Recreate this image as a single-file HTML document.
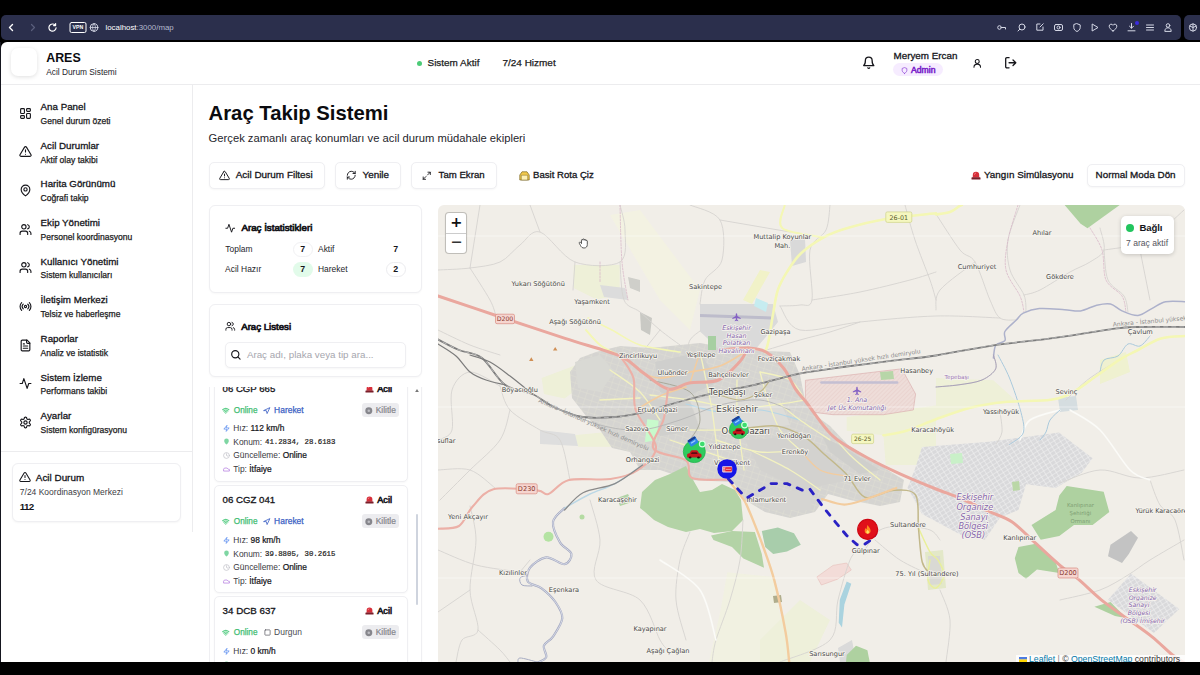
<!DOCTYPE html>
<html lang="tr">
<head>
<meta charset="utf-8">
<title>ARES - Araç Takip Sistemi</title>
<style>
*{box-sizing:border-box;margin:0;padding:0}
html,body{width:1200px;height:675px;overflow:hidden;background:#000}
body{font-family:"Liberation Sans",sans-serif;color:#0b0b0f;position:relative}
.abs{position:absolute}
svg{display:block;overflow:visible}
.ic{position:absolute;fill:none;stroke-linecap:round;stroke-linejoin:round}
.t{position:absolute;white-space:nowrap;line-height:1}
.card{position:absolute;background:#fff;border:1px solid #efeff2;border-radius:6px;box-shadow:0 1px 2px rgba(0,0,0,.03)}
.btn{position:absolute;border:1px solid #efeff2;border-radius:5px;background:#fff;box-shadow:0 1px 2px rgba(0,0,0,.035)}
.t b{color:#15151a;font-weight:400;-webkit-text-stroke:.22px #15151a}
</style>
</head>
<body>
<div class="abs" style="left:1px;top:42px;width:1199px;height:621px;background:#fff;border-radius:6px 0 0 0"></div>
<!-- browser chrome -->
<div class="abs" style="left:0;top:0;width:1200px;height:14px;background:#000"></div>
<div class="abs" style="left:0;top:14px;width:1200px;height:28px;background:#0c0e1c;z-index:-1"></div>
<div class="abs" style="left:1px;top:15px;width:1180px;height:25px;background:#2b2f4c;border-radius:5px"></div>
<div class="abs" style="left:1184px;top:15px;width:22px;height:25px;background:#2b2f4c;border-radius:5px"></div>

<svg class="abs" style="left:0;top:14px" width="1200" height="28" viewBox="0 14 1200 28" fill="none" stroke="#d5d8e6" stroke-width="1.2" stroke-linecap="round" stroke-linejoin="round">
  <path d="M12.5 24.5l-3 3 3 3" stroke="#fff" stroke-width="1.4"/>
  <path d="M31.5 24.5l3 3-3 3" stroke="#5a5f7c"/>
  <path d="M55.2 25.2a3.6 3.6 0 1 0 .9 2.6M55.6 23.6v2h-2" stroke="#fff"/>
  <rect x="70" y="22.5" width="16" height="10" rx="1.5" stroke="#fff" stroke-width="1"/>
  <circle cx="94" cy="27.5" r="3.8" stroke="#d5d8e6" stroke-width="1"/>
  <path d="M90.2 27.5h7.6M94 23.7c-2 2.2-2 5.4 0 7.600M94 23.700c2 2.200 2 5.400 0 7.600" stroke-width=".8"/>
  <!-- right icons -->
  <g stroke-width="1">
  <circle cx="999.500" cy="27.500" r="1.800"/><path d="M1001.300 27.500h4.200v1.500"/>
  <circle cx="1022" cy="27" r="3"/><path d="M1019.800 29.200l-1.800 1.800"/>
  <path d="M1043 27v3.200h-6.200v-6.200h3.200M1040 27l3.200-3.200"/>
  <rect x="1054.500" y="24.500" width="8" height="6" rx="1.500"/><circle cx="1058.500" cy="27.500" r="1.500"/>
  <path d="M1077 23.700l3.200 1.200v2.600c0 2-1.400 3.200-3.200 4-1.800-.8-3.200-2-3.200-4v-2.600z"/>
  <path d="M1092.500 24.200l5.500 3.300-5.500 3.300z"/>
  <path d="M1113 31c-2.400-1.600-3.800-3-3.800-4.800a2 2 0 0 1 3.800-.9 2 2 0 0 1 3.800.9c0 1.800-1.400 3.200-3.800 4.800z"/>
  <path d="M1131.500 23.500v4.500M1129.500 26.200l2 2 2-2M1128 30.800h7"/>
  <path d="M1146.500 25h7M1146.500 27.500h7M1146.500 30h7"/>
  <circle cx="1168" cy="25.500" r="1.800"/><path d="M1164.800 31c0-2.200 1.400-3.200 3.200-3.200s3.200 1 3.200 3.200z"/>
  <circle cx="1193" cy="27.500" r="3.600"/><path d="M1193 23.900v7.200M1189.800 26l3.200 1.500 3.200-1.500"/>
  </g>
  <circle cx="1137" cy="23" r="2" fill="#3a2be0" stroke="none"/>
</svg>
<div class="t" style="left:72.500px;top:25px;font-size:5.200px;font-weight:700;color:#fff;letter-spacing:.1px">VPN</div>

<div class="t" style="left:105.50px;top:23.93px;font-size:7.86px;color:#fff;">localhost<span style="color:#b4b8cc">:3000/map</span></div>
<div class="abs" style="left:1px;top:84px;width:1199px;height:1px;background:#ececee"></div>
<div class="abs" style="left:10.5px;top:47.5px;width:26.5px;height:28.5px;border-radius:7px;background:#fff;box-shadow:0 1px 4px rgba(0,0,0,.13)"></div>
<div class="t" style="left:46.20px;top:52.22px;font-size:12.42px;font-weight:700;color:#0b0b0f;">ARES</div>
<div class="t" style="left:46.20px;top:67.68px;font-size:8.35px;color:#26262c;">Acil Durum Sistemi</div>
<div class="abs" style="left:416.7px;top:60.7px;width:5px;height:5px;border-radius:50%;background:#4ccb77"></div>
<div class="t" style="left:427.50px;top:57.82px;font-size:9.95px;color:#1a1a20;-webkit-text-stroke:0.25px #1a1a20;">Sistem Aktif</div>
<div class="t" style="left:502.50px;top:57.82px;font-size:9.97px;color:#1a1a20;-webkit-text-stroke:0.25px #1a1a20;">7/24 Hizmet</div>
<svg class="ic" style="left:862.25px;top:55.75px;stroke:#16161b;stroke-width:2.3;" width="13.5" height="13.5" viewBox="0 0 24 24"><path d="M6 8a6 6 0 0 1 12 0c0 7 3 9 3 9H3s3-2 3-9M10.300 21a1.940 1.940 0 0 0 3.400 0"/></svg>
<div class="t" style="left:893.50px;top:50.98px;font-size:9.84px;color:#15151a;-webkit-text-stroke:0.3px #15151a;">Meryem Ercan</div>
<div class="abs" style="left:892.8px;top:63.4px;width:50.6px;height:13px;border-radius:6.500px;background:#f6ecff"></div>
<svg class="ic" style="left:900.50px;top:66.50px;stroke:#8b3fd6;stroke-width:2.4;" width="7" height="7" viewBox="0 0 24 24"><path d="M12 22s8-4 8-10V5l-8-3-8 3v7c0 6 8 10 8 10z"/></svg>
<div class="t" style="left:911.00px;top:65.52px;font-size:8.64px;color:#7a22c9;-webkit-text-stroke:0.55px #7a22c9;">Admin</div>
<svg class="ic" style="left:971.75px;top:57.75px;stroke:#16161b;stroke-width:2.4;" width="10.5" height="10.5" viewBox="0 0 24 24"><circle cx="12" cy="8" r="4.500"/><path d="M4.500 21c0-4.500 3.500-7 7.500-7s7.500 2.500 7.500 7"/></svg>
<svg class="ic" style="left:1003.75px;top:55.75px;stroke:#16161b;stroke-width:2.3;" width="13.5" height="13.5" viewBox="0 0 24 24"><path d="M9 21H5a2 2 0 0 1-2-2V5a2 2 0 0 1 2-2h4M16 17l5-5-5-5M21 12H9"/></svg>
<div class="abs" style="left:192px;top:85px;width:1px;height:447px;background:#ececee"></div>
<div class="abs" style="left:1px;top:451px;width:191px;height:1px;background:#ececee"></div>
<svg class="ic" style="left:19.10px;top:106.80px;stroke:#16161b;stroke-width:2.1;" width="13" height="13" viewBox="0 0 24 24"><rect x="3" y="3" width="7" height="9" rx="1.500"/><rect x="14" y="3" width="7" height="5" rx="1.500"/><rect x="14" y="12" width="7" height="9" rx="1.500"/><rect x="3" y="16" width="7" height="5" rx="1.500"/></svg>
<div class="t" style="left:40.60px;top:102.13px;font-size:9.75px;color:#15151a;-webkit-text-stroke:0.3px #15151a;">Ana Panel</div>
<div class="t" style="left:40.60px;top:116.87px;font-size:8.55px;color:#1c1c22;-webkit-text-stroke:0.25px #1c1c22;">Genel durum özeti</div>
<svg class="ic" style="left:19.10px;top:145.45px;stroke:#16161b;stroke-width:2.1;" width="13" height="13" viewBox="0 0 24 24"><path d="M10.290 3.860L1.820 18a2 2 0 0 0 1.710 3h16.940a2 2 0 0 0 1.710-3L13.710 3.860a2 2 0 0 0-3.420 0zM12 9v4M12 17h.01"/></svg>
<div class="t" style="left:40.60px;top:140.78px;font-size:9.75px;color:#15151a;-webkit-text-stroke:0.3px #15151a;">Acil Durumlar</div>
<div class="t" style="left:40.60px;top:155.52px;font-size:8.55px;color:#1c1c22;-webkit-text-stroke:0.25px #1c1c22;">Aktif olay takibi</div>
<svg class="ic" style="left:19.10px;top:184.10px;stroke:#16161b;stroke-width:2.1;" width="13" height="13" viewBox="0 0 24 24"><path d="M20 10c0 6-8 12-8 12s-8-6-8-12a8 8 0 0 1 16 0z"/><circle cx="12" cy="10" r="3"/></svg>
<div class="t" style="left:40.60px;top:179.43px;font-size:9.75px;color:#15151a;-webkit-text-stroke:0.3px #15151a;">Harita Görünümü</div>
<div class="t" style="left:40.60px;top:194.17px;font-size:8.55px;color:#1c1c22;-webkit-text-stroke:0.25px #1c1c22;">Coğrafi takip</div>
<svg class="ic" style="left:19.10px;top:222.75px;stroke:#16161b;stroke-width:2.1;" width="13" height="13" viewBox="0 0 24 24"><path d="M16 21v-2a4 4 0 0 0-4-4H6a4 4 0 0 0-4 4v2"/><circle cx="9" cy="7" r="4"/><path d="M22 21v-2a4 4 0 0 0-3-3.870M16 3.130a4 4 0 0 1 0 7.750"/></svg>
<div class="t" style="left:40.60px;top:218.08px;font-size:9.75px;color:#15151a;-webkit-text-stroke:0.3px #15151a;">Ekip Yönetimi</div>
<div class="t" style="left:40.60px;top:232.82px;font-size:8.55px;color:#1c1c22;-webkit-text-stroke:0.25px #1c1c22;">Personel koordinasyonu</div>
<svg class="ic" style="left:19.10px;top:261.40px;stroke:#16161b;stroke-width:2.1;" width="13" height="13" viewBox="0 0 24 24"><path d="M16 21v-2a4 4 0 0 0-4-4H6a4 4 0 0 0-4 4v2"/><circle cx="9" cy="7" r="4"/><path d="M22 21v-2a4 4 0 0 0-3-3.870M16 3.130a4 4 0 0 1 0 7.750"/></svg>
<div class="t" style="left:40.60px;top:256.73px;font-size:9.75px;color:#15151a;-webkit-text-stroke:0.3px #15151a;">Kullanıcı Yönetimi</div>
<div class="t" style="left:40.60px;top:271.47px;font-size:8.55px;color:#1c1c22;-webkit-text-stroke:0.25px #1c1c22;">Sistem kullanıcıları</div>
<svg class="ic" style="left:19.10px;top:300.05px;stroke:#16161b;stroke-width:2.1;" width="13" height="13" viewBox="0 0 24 24"><path d="M4.900 19.100C1 15.200 1 8.800 4.900 4.900M7.800 16.200c-2.300-2.300-2.300-6.100 0-8.500"/><circle cx="12" cy="12" r="2"/><path d="M16.200 7.800c2.300 2.300 2.300 6.100 0 8.500M19.100 4.900C23 8.800 23 15.100 19.100 19"/></svg>
<div class="t" style="left:40.60px;top:295.38px;font-size:9.75px;color:#15151a;-webkit-text-stroke:0.3px #15151a;">İletişim Merkezi</div>
<div class="t" style="left:40.60px;top:310.12px;font-size:8.55px;color:#1c1c22;-webkit-text-stroke:0.25px #1c1c22;">Telsiz ve haberleşme</div>
<svg class="ic" style="left:19.10px;top:338.70px;stroke:#16161b;stroke-width:2.1;" width="13" height="13" viewBox="0 0 24 24"><path d="M15 2H6a2 2 0 0 0-2 2v16a2 2 0 0 0 2 2h12a2 2 0 0 0 2-2V7z"/><path d="M14 2v4a2 2 0 0 0 2 2h4M10 9H8M16 13H8M16 17H8"/></svg>
<div class="t" style="left:40.60px;top:334.03px;font-size:9.75px;color:#15151a;-webkit-text-stroke:0.3px #15151a;">Raporlar</div>
<div class="t" style="left:40.60px;top:348.77px;font-size:8.55px;color:#1c1c22;-webkit-text-stroke:0.25px #1c1c22;">Analiz ve istatistik</div>
<svg class="ic" style="left:19.10px;top:377.35px;stroke:#16161b;stroke-width:2.1;" width="13" height="13" viewBox="0 0 24 24"><path d="M22 12h-4l-3 9L9 3l-3 9H2"/></svg>
<div class="t" style="left:40.60px;top:372.68px;font-size:9.75px;color:#15151a;-webkit-text-stroke:0.3px #15151a;">Sistem İzleme</div>
<div class="t" style="left:40.60px;top:387.42px;font-size:8.55px;color:#1c1c22;-webkit-text-stroke:0.25px #1c1c22;">Performans takibi</div>
<svg class="ic" style="left:19.10px;top:416.00px;stroke:#16161b;stroke-width:2.1;" width="13" height="13" viewBox="0 0 24 24"><path d="M12.220 2h-.440a2 2 0 0 0-2 2v.180a2 2 0 0 1-1 1.730l-.430.250a2 2 0 0 1-2 0l-.150-.080a2 2 0 0 0-2.730.730l-.220.380a2 2 0 0 0 .730 2.730l.150.100a2 2 0 0 1 1 1.720v.510a2 2 0 0 1-1 1.740l-.150.090a2 2 0 0 0-.730 2.730l.220.380a2 2 0 0 0 2.730.730l.150-.080a2 2 0 0 1 2 0l.430.250a2 2 0 0 1 1 1.730V20a2 2 0 0 0 2 2h.440a2 2 0 0 0 2-2v-.180a2 2 0 0 1 1-1.730l.430-.250a2 2 0 0 1 2 0l.150.080a2 2 0 0 0 2.730-.730l.220-.390a2 2 0 0 0-.730-2.730l-.150-.080a2 2 0 0 1-1-1.740v-.500a2 2 0 0 1 1-1.740l.150-.090a2 2 0 0 0 .730-2.730l-.220-.380a2 2 0 0 0-2.730-.730l-.150.080a2 2 0 0 1-2 0l-.430-.250a2 2 0 0 1-1-1.730V4a2 2 0 0 0-2-2z"/><circle cx="12" cy="12" r="3"/></svg>
<div class="t" style="left:40.60px;top:411.33px;font-size:9.75px;color:#15151a;-webkit-text-stroke:0.3px #15151a;">Ayarlar</div>
<div class="t" style="left:40.60px;top:426.07px;font-size:8.55px;color:#1c1c22;-webkit-text-stroke:0.25px #1c1c22;">Sistem konfigürasyonu</div>
<div class="card" style="left:12px;top:462.500px;width:169px;height:59.500px;box-shadow:0 1px 2px rgba(0,0,0,.04)"></div>
<svg class="ic" style="left:19.00px;top:471.20px;stroke:#16161b;stroke-width:2.1;" width="12" height="12" viewBox="0 0 24 24"><path d="M10.290 3.860L1.820 18a2 2 0 0 0 1.710 3h16.940a2 2 0 0 0 1.710-3L13.710 3.860a2 2 0 0 0-3.420 0zM12 9v4M12 17h.01"/></svg>
<div class="t" style="left:35.85px;top:472.65px;font-size:9.90px;color:#15151a;-webkit-text-stroke:0.3px #15151a;">Acil Durum</div>
<div class="t" style="left:19.80px;top:488.10px;font-size:8.50px;color:#3c3c44;">7/24 Koordinasyon Merkezi</div>
<div class="t" style="left:19.80px;top:502.41px;font-size:9.80px;font-weight:700;color:#15151a;letter-spacing:-0.7px;">112</div>
<div class="t" style="left:208.60px;top:102.55px;font-size:20.28px;font-weight:700;color:#0b0b0f;">Araç Takip Sistemi</div>
<div class="t" style="left:208.60px;top:132.75px;font-size:11.22px;color:#26262c;">Gerçek zamanlı araç konumları ve acil durum müdahale ekipleri</div>
<div class="btn" style="left:208.500px;top:162px;width:116px;height:27px"></div>
<svg class="ic" style="left:219.00px;top:170.00px;stroke:#16161b;stroke-width:2.1;" width="11" height="11" viewBox="0 0 24 24"><path d="M10.290 3.860L1.820 18a2 2 0 0 0 1.710 3h16.940a2 2 0 0 0 1.710-3L13.710 3.860a2 2 0 0 0-3.420 0zM12 9v4M12 17h.01"/></svg>
<div class="t" style="left:235.70px;top:170.24px;font-size:9.92px;color:#15151a;-webkit-text-stroke:0.3px #15151a;">Acil Durum Filtesi</div>
<div class="btn" style="left:335px;top:162px;width:65.500px;height:27px"></div>
<svg class="ic" style="left:345.75px;top:170.25px;stroke:#16161b;stroke-width:2.1;" width="10.5" height="10.5" viewBox="0 0 24 24"><path d="M3 12a9 9 0 0 1 9-9 9.750 9.750 0 0 1 6.740 2.740L21 8M21 3v5h-5M21 12a9 9 0 0 1-9 9 9.750 9.750 0 0 1-6.740-2.740L3 16M8 16H3v5"/></svg>
<div class="t" style="left:362.50px;top:170.26px;font-size:9.90px;color:#15151a;-webkit-text-stroke:0.3px #15151a;">Yenile</div>
<div class="btn" style="left:411px;top:162px;width:86px;height:27px"></div>
<svg class="ic" style="left:422.25px;top:170.75px;stroke:#16161b;stroke-width:2.2;" width="9.5" height="9.5" viewBox="0 0 24 24"><path d="M15 3h6v6M9 21H3v-6M21 3l-7 7M3 21l7-7"/></svg>
<div class="t" style="left:438.60px;top:170.39px;font-size:9.65px;color:#15151a;-webkit-text-stroke:0.3px #15151a;">Tam Ekran</div>
<svg class="abs" style="left:518.500px;top:170.0px" width="11" height="11" viewBox="0 0 11 11"><path d="M.8 10V5L3 1.800h5L10.200 5v5z" fill="#f2c94c" stroke="#7a6520" stroke-width=".7"/><path d="M2.300 5.200h6.400V10H2.300z" fill="#fdf0b5" stroke="#7a6520" stroke-width=".5"/></svg>
<div class="t" style="left:533.10px;top:170.42px;font-size:9.58px;color:#15151a;-webkit-text-stroke:0.3px #15151a;">Basit Rota Çiz</div>
<svg class="abs" style="left:970.500px;top:169.7px" width="10" height="10" viewBox="0 0 10 10"><path d="M1.800 7.500V5a3.200 3.200 0 0 1 6.400 0v2.500z" fill="#d62f3a"/><rect x=".5" y="7.300" width="9" height="2.200" rx=".6" fill="#7a1f2a"/><path d="M3.500 4.600a1.600 1.600 0 0 1 1.300-1.500" stroke="#ff9aa0" stroke-width=".8" fill="none"/></svg>
<div class="t" style="left:984.00px;top:169.79px;font-size:9.83px;color:#15151a;-webkit-text-stroke:0.3px #15151a;">Yangın Simülasyonu</div>
<div class="btn" style="left:1087px;top:163.500px;width:97.500px;height:23.500px"></div>
<div class="t" style="left:1095.60px;top:169.77px;font-size:9.87px;color:#15151a;-webkit-text-stroke:0.3px #15151a;">Normal Moda Dön</div>
<div class="card" style="left:208.500px;top:205px;width:213.500px;height:88px"></div>
<svg class="ic" style="left:224.75px;top:222.55px;stroke:#16161b;stroke-width:2.2;" width="10.5" height="10.5" viewBox="0 0 24 24"><path d="M22 12h-4l-3 9L9 3l-3 9H2"/></svg>
<div class="t" style="left:241.40px;top:222.53px;font-size:9.75px;color:#15151a;-webkit-text-stroke:0.7px #15151a;">Araç İstatistikleri</div>
<div class="t" style="left:225.30px;top:245.42px;font-size:8.45px;color:#26262c;">Toplam</div>
<div class="t" style="left:318.00px;top:245.42px;font-size:8.45px;color:#26262c;">Aktif</div>
<div class="t" style="left:225.10px;top:265.32px;font-size:8.45px;color:#26262c;">Acil Hazır</div>
<div class="t" style="left:318.00px;top:265.32px;font-size:8.45px;color:#26262c;">Hareket</div>
<div class="abs" style="left:293px;top:242px;width:19.5px;height:15px;border-radius:7.500px;border:1px solid #f1f1f3"></div>
<div class="abs" style="left:293px;top:262px;width:19.5px;height:15px;border-radius:7.500px;background:#e2fbea"></div>
<div class="abs" style="left:386px;top:262px;width:19.5px;height:15px;border-radius:7.500px;border:1px solid #ececef"></div>
<div class="t" style="left:300.30px;top:245.24px;font-size:8.80px;font-weight:700;color:#15151a;">7</div>
<div class="t" style="left:393.30px;top:245.24px;font-size:8.80px;font-weight:700;color:#15151a;">7</div>
<div class="t" style="left:300.30px;top:265.14px;font-size:8.80px;font-weight:700;color:#15151a;">7</div>
<div class="t" style="left:393.30px;top:265.14px;font-size:8.80px;font-weight:700;color:#15151a;">2</div>
<div class="card" style="left:208.500px;top:304px;width:213.500px;height:72.500px"></div>
<svg class="ic" style="left:224.75px;top:321.25px;stroke:#16161b;stroke-width:2.1;" width="10.5" height="10.5" viewBox="0 0 24 24"><path d="M16 21v-2a4 4 0 0 0-4-4H6a4 4 0 0 0-4 4v2"/><circle cx="9" cy="7" r="4"/><path d="M22 21v-2a4 4 0 0 0-3-3.870M16 3.130a4 4 0 0 1 0 7.750"/></svg>
<div class="t" style="left:241.20px;top:322.17px;font-size:9.67px;color:#15151a;-webkit-text-stroke:0.7px #15151a;">Araç Listesi</div>
<div class="btn" style="left:225px;top:342px;width:180.500px;height:26px"></div>
<svg class="ic" style="left:229.55px;top:349.05px;stroke:#16161b;stroke-width:2.4;" width="11.5" height="11.5" viewBox="0 0 24 24"><circle cx="11" cy="11" r="7.500"/><path d="M21 21l-4.500-4.500"/></svg>
<div class="t" style="left:246.90px;top:350.01px;font-size:9.79px;color:#a6a6ae;">Araç adı, plaka veya tip ara...</div>
<div class="abs" style="left:208.5px;top:386.5px;width:214px;height:276px;overflow:hidden">
<div class="card" style="left:0;top:-8px;width:213.500px;height:300px;border-radius:6px"></div>
<div class="card" style="left:5.800px;top:-12.1px;width:193.500px;height:107.500px;border-radius:5px"></div>
<div class="t" style="left:14.10px;top:-2.89px;font-size:9.61px;color:#15151a;-webkit-text-stroke:0.3px #15151a;">06 CGP 665</div>
<svg class="abs" style="left:156.8px;top:-2.1px" width="9" height="9" viewBox="0 0 10 10"><path d="M1.800 7.500V5a3.200 3.200 0 0 1 6.400 0v2.500z" fill="#d62f3a"/><rect x=".5" y="7.300" width="9" height="2.200" rx=".6" fill="#7a1f2a"/><path d="M3.500 4.600a1.600 1.600 0 0 1 1.300-1.500" stroke="#ff9aa0" stroke-width=".8" fill="none"/></svg>
<div class="t" style="left:168.70px;top:-1.87px;font-size:9.18px;color:#15151a;-webkit-text-stroke:0.6px #15151a;">Acil</div>
<svg class="ic" style="left:13.95px;top:20.55px;stroke:#5fcf8a;stroke-width:3.4;" width="7.5" height="7.5" viewBox="0 0 24 24"><path d="M2 8.800a15 15 0 0 1 20 0M5 12.900a10 10 0 0 1 14 0M8.500 16.400a5 5 0 0 1 7 0M12 20h.01"/></svg>
<div class="t" style="left:25.30px;top:20.45px;font-size:8.20px;color:#41bd72;-webkit-text-stroke:0.25px #41bd72;">Online</div>
<svg class="ic" style="left:54.75px;top:20.55px;stroke:#3b5fc4;stroke-width:2.6;" width="7.5" height="7.5" viewBox="0 0 24 24"><path d="M3 11l19-9-9 19-2-8z"/></svg>
<div class="t" style="left:65.60px;top:19.52px;font-size:8.45px;color:#3b5fc4;-webkit-text-stroke:0.25px #3b5fc4;">Hareket</div>
<div class="abs" style="left:153.3px;top:16.099999999999977px;width:37.2px;height:14.8px;border-radius:3px;background:#ececef"></div>
<svg class="abs" style="left:156.60000000000002px;top:20.8px" width="7.600" height="7.600" viewBox="0 0 10 10"><circle cx="5" cy="5" r="4.600" fill="#86868c"/><circle cx="5" cy="5" r="1.700" fill="#bdbdc2"/></svg>
<div class="t" style="left:167.20px;top:19.82px;font-size:8.45px;color:#85858c;-webkit-text-stroke:0.2px #85858c;">Kilitle</div>
<svg class="ic" style="left:14.20px;top:38.60px;stroke:#5b8def;stroke-width:2.6;" width="7" height="7" viewBox="0 0 24 24"><path d="M13 2L3 14h9l-1 8 10-12h-9z"/></svg>
<svg class="abs" style="left:14.099999999999994px;top:51.7px" width="7" height="7" viewBox="0 0 24 24"><path d="M20 10c0 6-8 12-8 12s-8-6-8-12a8 8 0 0 1 16 0z" fill="#7fd6a3"/></svg>
<svg class="ic" style="left:14.20px;top:65.10px;stroke:#c4c4ca;stroke-width:2.6;" width="7" height="7" viewBox="0 0 24 24"><circle cx="12" cy="12" r="10"/><path d="M12 6v6l4 2"/></svg>
<svg class="ic" style="left:14.20px;top:79.00px;stroke:#b57fe0;stroke-width:2.6;" width="7" height="7" viewBox="0 0 24 24"><path d="M2 16V11l3-4h9l4 4h3a1 1 0 0 1 1 1v4z"/></svg>
<div class="t" style="left:24.80px;top:37.66px;font-size:8.38px;color:#3a3a42;">Hız: <b>112 km/h</b></div>
<div class="t" style="left:24.80px;top:51.26px;font-size:8.38px;color:#3a3a42;">Konum:</div>
<div class="t" style="left:56.50px;top:52.01px;font-size:7.34px;color:#1c1c20;-webkit-text-stroke:0.2px #1c1c20;font-family:'Liberation Mono',monospace;">41.2834, 28.6183</div>
<div class="t" style="left:24.80px;top:64.16px;font-size:8.38px;color:#3a3a42;">Güncelleme: <b>Online</b></div>
<div class="t" style="left:24.80px;top:78.06px;font-size:8.38px;color:#3a3a42;">Tip: <b>İtfaiye</b></div>
<div class="card" style="left:5.800px;top:98.9px;width:193.500px;height:107.500px;border-radius:5px"></div>
<div class="t" style="left:14.10px;top:108.07px;font-size:9.67px;color:#15151a;-webkit-text-stroke:0.3px #15151a;">06 CGZ 041</div>
<svg class="abs" style="left:156.8px;top:108.9px" width="9" height="9" viewBox="0 0 10 10"><path d="M1.800 7.500V5a3.200 3.200 0 0 1 6.400 0v2.500z" fill="#d62f3a"/><rect x=".5" y="7.300" width="9" height="2.200" rx=".6" fill="#7a1f2a"/><path d="M3.500 4.600a1.600 1.600 0 0 1 1.300-1.500" stroke="#ff9aa0" stroke-width=".8" fill="none"/></svg>
<div class="t" style="left:168.70px;top:109.13px;font-size:9.18px;color:#15151a;-webkit-text-stroke:0.6px #15151a;">Acil</div>
<svg class="ic" style="left:13.95px;top:131.55px;stroke:#5fcf8a;stroke-width:3.4;" width="7.5" height="7.5" viewBox="0 0 24 24"><path d="M2 8.800a15 15 0 0 1 20 0M5 12.900a10 10 0 0 1 14 0M8.500 16.400a5 5 0 0 1 7 0M12 20h.01"/></svg>
<div class="t" style="left:25.30px;top:131.45px;font-size:8.20px;color:#41bd72;-webkit-text-stroke:0.25px #41bd72;">Online</div>
<svg class="ic" style="left:54.75px;top:131.55px;stroke:#3b5fc4;stroke-width:2.6;" width="7.5" height="7.5" viewBox="0 0 24 24"><path d="M3 11l19-9-9 19-2-8z"/></svg>
<div class="t" style="left:65.60px;top:130.52px;font-size:8.45px;color:#3b5fc4;-webkit-text-stroke:0.25px #3b5fc4;">Hareket</div>
<div class="abs" style="left:153.3px;top:127.09999999999998px;width:37.2px;height:14.8px;border-radius:3px;background:#ececef"></div>
<svg class="abs" style="left:156.60000000000002px;top:131.8px" width="7.600" height="7.600" viewBox="0 0 10 10"><circle cx="5" cy="5" r="4.600" fill="#86868c"/><circle cx="5" cy="5" r="1.700" fill="#bdbdc2"/></svg>
<div class="t" style="left:167.20px;top:130.82px;font-size:8.45px;color:#85858c;-webkit-text-stroke:0.2px #85858c;">Kilitle</div>
<svg class="ic" style="left:14.20px;top:150.60px;stroke:#5b8def;stroke-width:2.6;" width="7" height="7" viewBox="0 0 24 24"><path d="M13 2L3 14h9l-1 8 10-12h-9z"/></svg>
<svg class="abs" style="left:14.099999999999994px;top:163.7px" width="7" height="7" viewBox="0 0 24 24"><path d="M20 10c0 6-8 12-8 12s-8-6-8-12a8 8 0 0 1 16 0z" fill="#7fd6a3"/></svg>
<svg class="ic" style="left:14.20px;top:177.10px;stroke:#c4c4ca;stroke-width:2.6;" width="7" height="7" viewBox="0 0 24 24"><circle cx="12" cy="12" r="10"/><path d="M12 6v6l4 2"/></svg>
<svg class="ic" style="left:14.20px;top:191.00px;stroke:#b57fe0;stroke-width:2.6;" width="7" height="7" viewBox="0 0 24 24"><path d="M2 16V11l3-4h9l4 4h3a1 1 0 0 1 1 1v4z"/></svg>
<div class="t" style="left:24.80px;top:149.66px;font-size:8.38px;color:#3a3a42;">Hız: <b>98 km/h</b></div>
<div class="t" style="left:24.80px;top:163.26px;font-size:8.38px;color:#3a3a42;">Konum:</div>
<div class="t" style="left:56.50px;top:164.01px;font-size:7.34px;color:#1c1c20;-webkit-text-stroke:0.2px #1c1c20;font-family:'Liberation Mono',monospace;">39.8805, 30.2615</div>
<div class="t" style="left:24.80px;top:176.16px;font-size:8.38px;color:#3a3a42;">Güncelleme: <b>Online</b></div>
<div class="t" style="left:24.80px;top:190.06px;font-size:8.38px;color:#3a3a42;">Tip: <b>İtfaiye</b></div>
<div class="card" style="left:5.800px;top:209.9px;width:193.500px;height:107.500px;border-radius:5px"></div>
<div class="t" style="left:14.10px;top:219.01px;font-size:9.78px;color:#15151a;-webkit-text-stroke:0.3px #15151a;">34 DCB 637</div>
<svg class="abs" style="left:156.8px;top:219.9px" width="9" height="9" viewBox="0 0 10 10"><path d="M1.800 7.500V5a3.200 3.200 0 0 1 6.400 0v2.500z" fill="#d62f3a"/><rect x=".5" y="7.300" width="9" height="2.200" rx=".6" fill="#7a1f2a"/><path d="M3.500 4.600a1.600 1.600 0 0 1 1.300-1.500" stroke="#ff9aa0" stroke-width=".8" fill="none"/></svg>
<div class="t" style="left:168.70px;top:220.13px;font-size:9.18px;color:#15151a;-webkit-text-stroke:0.6px #15151a;">Acil</div>
<svg class="ic" style="left:13.95px;top:242.55px;stroke:#5fcf8a;stroke-width:3.4;" width="7.5" height="7.5" viewBox="0 0 24 24"><path d="M2 8.800a15 15 0 0 1 20 0M5 12.900a10 10 0 0 1 14 0M8.500 16.400a5 5 0 0 1 7 0M12 20h.01"/></svg>
<div class="t" style="left:25.30px;top:242.45px;font-size:8.20px;color:#41bd72;-webkit-text-stroke:0.25px #41bd72;">Online</div>
<svg class="ic" style="left:55.00px;top:242.80px;stroke:#55555c;stroke-width:2.4;" width="7" height="7" viewBox="0 0 24 24"><rect x="3" y="3" width="18" height="18" rx="2"/></svg>
<div class="t" style="left:65.60px;top:241.81px;font-size:8.48px;color:#4a4a52;">Durgun</div>
<div class="abs" style="left:153.3px;top:238.09999999999997px;width:37.2px;height:14.8px;border-radius:3px;background:#ececef"></div>
<svg class="abs" style="left:156.60000000000002px;top:242.8px" width="7.600" height="7.600" viewBox="0 0 10 10"><circle cx="5" cy="5" r="4.600" fill="#86868c"/><circle cx="5" cy="5" r="1.700" fill="#bdbdc2"/></svg>
<div class="t" style="left:167.20px;top:241.82px;font-size:8.45px;color:#85858c;-webkit-text-stroke:0.2px #85858c;">Kilitle</div>
<svg class="ic" style="left:14.20px;top:261.60px;stroke:#5b8def;stroke-width:2.6;" width="7" height="7" viewBox="0 0 24 24"><path d="M13 2L3 14h9l-1 8 10-12h-9z"/></svg>
<svg class="abs" style="left:14.099999999999994px;top:274.7px" width="7" height="7" viewBox="0 0 24 24"><path d="M20 10c0 6-8 12-8 12s-8-6-8-12a8 8 0 0 1 16 0z" fill="#7fd6a3"/></svg>
<svg class="ic" style="left:14.20px;top:288.10px;stroke:#c4c4ca;stroke-width:2.6;" width="7" height="7" viewBox="0 0 24 24"><circle cx="12" cy="12" r="10"/><path d="M12 6v6l4 2"/></svg>
<svg class="ic" style="left:14.20px;top:302.00px;stroke:#b57fe0;stroke-width:2.6;" width="7" height="7" viewBox="0 0 24 24"><path d="M2 16V11l3-4h9l4 4h3a1 1 0 0 1 1 1v4z"/></svg>
<div class="t" style="left:24.80px;top:260.66px;font-size:8.38px;color:#3a3a42;">Hız: <b>0 km/h</b></div>
<div class="t" style="left:24.80px;top:274.26px;font-size:8.38px;color:#3a3a42;">Konum:</div>
<div class="t" style="left:56.50px;top:275.01px;font-size:7.34px;color:#1c1c20;-webkit-text-stroke:0.2px #1c1c20;font-family:'Liberation Mono',monospace;">40.1296, 31.0371</div>
<div class="t" style="left:24.80px;top:287.16px;font-size:8.38px;color:#3a3a42;">Güncelleme: <b>Online</b></div>
<div class="t" style="left:24.80px;top:301.06px;font-size:8.38px;color:#3a3a42;">Tip: <b>İtfaiye</b></div>
<div class="abs" style="left:207px;top:127px;width:2.6px;height:91px;border-radius:2px;background:#cfd4de"></div>
<svg class="abs" style="left:206.300px;top:2.500px" width="4" height="3" viewBox="0 0 5 4"><path d="M0 4L2.500 0 5 4z" fill="#777"/></svg>
</div>
<!-- map -->
<svg class="abs" style="left:438px;top:205px;overflow:hidden;border-radius:6px 6px 0 0" width="747" height="458" viewBox="438 205 747 458" font-family="'DejaVu Sans','Liberation Sans',sans-serif">
<defs><pattern id="hatch" width="3" height="3" patternUnits="userSpaceOnUse" patternTransform="rotate(45)"><rect width="3" height="3" fill="#eeddd9"/><line x1="0" y1="0" x2="0" y2="3" stroke="#e6cbc7" stroke-width="1"/></pattern>
<pattern id="grid" width="5" height="4" patternUnits="userSpaceOnUse" patternTransform="rotate(-32)"><rect width="5" height="4" fill="#d9d9db"/><path d="M0 0H5M0 0V4" stroke="#f3f3f3" stroke-width="1.100"/></pattern>
<pattern id="city" width="7" height="6" patternUnits="userSpaceOnUse" patternTransform="rotate(18)"><rect width="7" height="6" fill="#d5d4d1"/><path d="M0 0H7M0 0V6" stroke="#e2e2d4" stroke-width=".8"/></pattern>
<filter id="soft"><feGaussianBlur stdDeviation=".45"/></filter></defs>
<rect x="438" y="205" width="747" height="458" fill="#f1eee8"/>
<g filter="url(#soft)">
<polygon points="573.7,265.0 619.7,265.0 619.7,294.8 596.7,299.4 573.7,288.0" fill="#eef0d8" />
<polygon points="541.6,378.0 578.3,364.2 583.0,384.8 564.6,398.6 544.0,394.0" fill="#eef0d8" />
<polygon points="573.7,435.3 619.7,430.8 642.6,423.9 642.6,444.5 615.0,446.8 578.3,446.8" fill="#eef0d8" />
<polygon points="846.7,417.0 936.0,405.5 936.0,465.0 885.7,465.0 883.4,435.3 846.7,430.8" fill="#eef0d8" />
<polygon points="936.0,378.0 993.4,380.3 1016.3,401.0 970.4,407.8 936.0,419.3" fill="#eef0d8" />
<polygon points="727.3,572.3 773.2,576.9 782.4,627.4 777.8,662.0 709.0,662.0 720.4,611.3" fill="#f1f1e1" />
<polygon points="610.0,215.0 640.0,210.0 700.0,290.0 690.0,330.0 660.0,300.0" fill="#f3f2e2" />
<polygon points="743.0,300.0 760.0,270.0 770.0,272.0 752.0,304.0" fill="#f1f2c8" />
<polygon points="1100.0,360.0 1126.0,352.0 1130.0,372.0 1100.0,384.0" fill="#eff1d0" />
<polygon points="760.0,640.0 800.0,600.0 830.0,620.0 810.0,662.0 760.0,662.0" fill="#eef0da" />
<polygon points="596.0,352.0 620.0,346.0 650.0,348.0 700.0,343.0 740.0,350.0 790.0,352.0 800.0,375.0 805.0,400.0 815.0,415.0 830.0,426.0 848.0,445.0 878.0,464.0 904.0,480.0 900.0,502.0 880.0,506.0 850.0,500.0 828.0,494.0 815.0,512.0 790.0,518.0 765.0,512.0 745.0,500.0 733.0,482.0 690.0,480.0 660.0,470.0 640.0,470.0 630.0,452.0 612.0,448.0 600.0,430.0 586.0,416.0 572.0,398.0 570.0,372.0 580.0,358.0" fill="url(#city)" />
<polygon points="655.0,362.0 700.0,352.0 718.0,382.0 680.0,400.0 660.0,392.0" fill="#cfcfcd" />
<polygon points="745.0,440.0 800.0,436.0 830.0,455.0 850.0,480.0 800.0,490.0 760.0,470.0" fill="#d3d2cf" />
<polygon points="690.0,400.0 740.0,395.0 780.0,400.0 790.0,425.0 740.0,432.0 700.0,428.0" fill="#dddcd8" />
<polygon points="575.0,362.0 600.0,355.0 615.0,372.0 600.0,392.0 578.0,388.0" fill="#d9d9d4" />
<polygon points="640.0,398.0 690.0,402.0 700.0,430.0 660.0,436.0 640.0,420.0" fill="#d0d0cd" />
<polygon points="822.0,436.0 848.0,450.0 880.0,470.0 860.0,474.0 830.0,452.0" fill="#cfcfcc" />
<polygon points="760.0,488.0 810.0,492.0 812.0,510.0 770.0,510.0" fill="#d6d5d2" />
<polygon points="600.0,285.0 625.0,288.0 628.0,300.0 604.0,297.0" fill="#dcdcdc" />
<polygon points="640.0,312.0 652.0,318.0 650.0,335.0 641.0,330.0" fill="#c9c9c4" />
<polygon points="628.0,277.0 640.0,280.0 640.0,292.0 630.0,288.0" fill="#cfcfca" />
<polygon points="790.0,240.0 805.0,238.0 806.0,262.0 792.0,266.0" fill="#d9d9d9" />
<polygon points="1058.0,398.0 1076.0,396.0 1078.0,410.0 1060.0,412.0" fill="#d5dde0" />
<polygon points="925.0,552.0 943.0,550.0 946.0,588.0 928.0,590.0" fill="#e3e8c8" />
<polygon points="928.0,556.0 940.0,556.0 942.0,584.0 930.0,585.0" fill="#d9d9d4" />
<polygon points="540.0,430.0 575.0,434.0 578.0,446.0 540.0,444.0" fill="#dedede" />
<polygon points="838.0,648.0 852.0,640.0 856.0,662.0 840.0,662.0" fill="#dadada" />
<polygon points="700.0,304.0 773.0,304.0 778.0,322.0 755.0,350.0 720.0,350.0 700.0,331.6" fill="#dadada" />
<polygon points="700.0,314.0 771.0,316.5 771.0,319.5 700.0,317.0" fill="#bdbccb" />
<polygon points="708.0,336.0 716.0,336.0 716.0,350.0 708.0,350.0" fill="#a7cfa2" />
<polygon points="756.0,298.0 768.0,303.0 766.0,312.0 754.0,306.0" fill="#c6ecf0" />
<polygon points="805.4,380.3 901.8,368.8 915.6,394.0 913.3,410.0 883.4,414.7 833.0,414.7 814.6,412.4 805.4,398.6" fill="url(#hatch)" stroke="#d9a9a9" stroke-width=".6"/>
<polyline points="821.4,382.5 897.2,382.5" fill="none" stroke="#c4bfd2" stroke-width="2.4" stroke-linejoin="round" stroke-linecap="round" />
<polygon points="880.0,372.0 893.0,371.0 894.0,379.0 881.0,380.0" fill="#b7d6a8" />
<polygon points="922.0,447.0 989.0,441.7 1059.0,432.4 1092.6,458.3 1081.5,473.0 1055.6,488.0 1026.0,484.3 1018.5,510.0 1000.0,517.6 985.0,539.8 963.0,536.0 922.0,514.0 907.4,488.0 914.8,469.4" fill="url(#grid)" />
<polygon points="1131.0,573.4 1179.3,609.0 1154.0,633.0 1108.0,599.8" fill="url(#grid)" />
<polygon points="950.0,454.0 962.0,453.0 963.0,463.0 951.0,464.0" fill="#c9f0c8" />
<polygon points="1012.0,482.0 1019.0,481.0 1020.0,490.0 1013.0,491.0" fill="#bad7a6" />
<polygon points="1064.6,205.0 1119.7,205.0 1087.5,228.3 1080.6,223.7" fill="#aed1a0" />
<polygon points="640.0,508.0 642.0,492.0 655.0,480.0 670.0,474.0 686.0,466.0 692.0,478.0 700.0,492.0 712.0,490.0 722.0,484.0 735.0,490.0 741.0,500.0 743.0,520.0 732.0,531.0 714.0,533.0 700.0,529.0 686.0,532.0 668.0,527.0 654.0,520.0 645.0,512.0" fill="#b3d3a6" />
<polygon points="711.0,535.5 732.0,531.0 754.9,532.0 761.8,554.0 764.0,567.7 743.4,558.5 732.0,547.0 713.5,540.0" fill="#b3d3a6" />
<polygon points="761.8,531.0 777.8,527.5 794.0,533.3 800.8,544.7 787.0,551.6 773.2,554.0 765.2,547.0" fill="#a8cdab" />
<polygon points="1066.7,486.0 1103.7,491.7 1109.3,512.0 1092.6,525.0 1074.0,525.0 1059.3,536.0 1040.7,539.8 1031.5,525.0 1055.6,510.0 1059.3,495.4" fill="#aed1a0" />
<polygon points="1018.5,547.0 1037.0,543.5 1055.6,562.0 1059.3,573.0 1037.0,569.4 1026.0,578.7 1018.5,573.0 1014.8,558.3" fill="#aed1a0" />
<polygon points="1094.4,606.7 1110.5,602.0 1126.5,618.2 1115.0,616.0" fill="#aed1a0" />
<polygon points="846.7,655.0 856.0,645.7 867.4,650.3 869.7,662.0 846.0,662.0" fill="#aed1a0" />
<circle cx="548.500" cy="536.700" r="5" fill="#b4e3a2"/>
<circle cx="582" cy="517" r="2.500" fill="#b4dba2"/>
<polygon points="647.2,419.3 658.7,420.4 656.4,440.0 645.0,442.2" fill="#c8facc" />
<polygon points="617.0,498.0 628.0,494.0 632.0,502.0 620.0,506.0" fill="#b3d3a6" />
<polygon points="1110.5,544.7 1131.0,531.0 1138.0,537.8 1128.8,554.0 1122.0,563.0 1108.0,556.2" fill="#c3c3c3" />
<polygon points="816.9,576.9 833.0,565.4 846.7,563.0 851.3,570.0 837.5,579.2 821.4,585.0" fill="#f3dcd8" stroke="#e6bdb8" stroke-width=".6"/>
<polygon points="846.7,581.5 851.3,583.8 844.4,604.4 842.0,627.4 838.7,622.8 839.8,599.8" fill="#aad3df" />
<polygon points="773.0,596.0 781.0,595.0 782.0,602.0 774.0,603.0" fill="#b0ad8c" />
<path d="M438.0 270.0C443.1 269.7 460.1 269.3 470.0 268.0C479.9 266.7 492.0 265.7 500.0 262.0C508.0 258.3 513.6 249.8 520.0 245.0C526.4 240.2 531.2 229.3 540.0 232.0C548.8 234.7 562.2 257.2 575.0 262.0C587.8 266.8 612.0 267.1 620.0 262.0C628.0 256.9 625.0 239.1 625.0 230.0C625.0 220.9 620.8 209.0 620.0 205.0" fill="none" stroke="#d6d4d0" stroke-width="0.9" stroke-linejoin="round" stroke-linecap="round" />
<polyline points="540.0,232.0 530.0,205.0" fill="none" stroke="#d6d4d0" stroke-width="0.9" stroke-linejoin="round" stroke-linecap="round" />
<polyline points="575.0,262.0 573.0,290.0" fill="none" stroke="#d6d4d0" stroke-width="0.9" stroke-linejoin="round" stroke-linecap="round" />
<path d="M620.0 262.0C620.6 268.1 620.8 292.0 624.0 300.0C627.2 308.0 634.2 307.2 640.0 312.0C645.8 316.8 653.6 324.7 660.0 330.0C666.4 335.3 676.8 342.6 680.0 345.0" fill="none" stroke="#d6d4d0" stroke-width="0.9" stroke-linejoin="round" stroke-linecap="round" />
<path d="M470.0 268.0C473.2 273.1 485.8 292.3 490.0 300.0C494.2 307.7 495.0 313.4 496.0 316.0" fill="none" stroke="#d6d4d0" stroke-width="0.9" stroke-linejoin="round" stroke-linecap="round" />
<polyline points="480.0,205.0 470.0,268.0" fill="none" stroke="#d6d4d0" stroke-width="0.9" stroke-linejoin="round" stroke-linecap="round" />
<path d="M438.0 330.0C443.1 332.4 460.1 341.0 470.0 345.0C479.9 349.0 495.2 353.4 500.0 355.0" fill="none" stroke="#d6d4d0" stroke-width="0.9" stroke-linejoin="round" stroke-linecap="round" />
<path d="M690.0 205.0C694.8 207.4 714.9 211.2 720.0 220.0C725.1 228.8 724.4 250.4 722.0 260.0C719.6 269.6 708.5 273.0 705.0 280.0C701.5 287.0 700.8 300.2 700.0 304.0" fill="none" stroke="#d6d4d0" stroke-width="0.9" stroke-linejoin="round" stroke-linecap="round" />
<polyline points="720.0,220.0 790.0,232.0" fill="none" stroke="#d6d4d0" stroke-width="0.9" stroke-linejoin="round" stroke-linecap="round" />
<path d="M830.0 205.0C829.4 209.0 829.2 222.8 826.0 230.0C822.8 237.2 812.2 238.8 810.0 250.0C807.8 261.2 813.6 291.2 812.0 300.0C810.4 308.8 805.1 304.0 800.0 305.0C794.9 306.0 783.2 305.8 780.0 306.0" fill="none" stroke="#d6d4d0" stroke-width="0.9" stroke-linejoin="round" stroke-linecap="round" />
<path d="M812.0 300.0C819.7 298.7 844.3 295.2 860.0 292.0C875.7 288.8 897.8 283.2 910.0 280.0C922.2 276.8 931.8 273.3 936.0 272.0" fill="none" stroke="#d6d4d0" stroke-width="0.9" stroke-linejoin="round" stroke-linecap="round" />
<path d="M905.0 205.0C906.6 210.6 911.0 228.0 915.0 240.0C919.0 252.0 926.6 270.4 930.0 280.0C933.4 289.6 935.0 296.8 936.0 300.0" fill="none" stroke="#d6d4d0" stroke-width="0.9" stroke-linejoin="round" stroke-linecap="round" />
<path d="M936.0 214.0C939.8 219.8 953.8 242.3 960.0 250.0C966.2 257.7 970.2 254.0 975.0 262.0C979.8 270.0 986.0 291.0 990.0 300.0C994.0 309.0 995.8 314.8 1000.0 318.0C1004.2 321.2 1013.4 319.7 1016.0 320.0" fill="none" stroke="#d6d4d0" stroke-width="0.9" stroke-linejoin="round" stroke-linecap="round" />
<path d="M1020.0 205.0C1018.1 210.6 1009.6 229.6 1008.0 240.0C1006.4 250.4 1007.4 261.2 1010.0 270.0C1012.6 278.8 1021.4 288.3 1024.0 295.0C1026.6 301.7 1025.7 309.3 1026.0 312.0" fill="none" stroke="#d6d4d0" stroke-width="0.9" stroke-linejoin="round" stroke-linecap="round" />
<path d="M975.0 262.0C969.4 266.5 946.2 282.3 940.0 290.0C933.8 297.7 936.6 306.8 936.0 310.0" fill="none" stroke="#d6d4d0" stroke-width="0.9" stroke-linejoin="round" stroke-linecap="round" />
<path d="M1100.0 228.0C1100.6 231.5 1105.6 244.6 1104.0 250.0C1102.4 255.4 1095.4 258.5 1090.0 262.0C1084.6 265.5 1078.0 267.5 1070.0 272.0C1062.0 276.5 1047.4 286.3 1040.0 290.0C1032.6 293.7 1026.6 294.2 1024.0 295.0" fill="none" stroke="#d6d4d0" stroke-width="0.9" stroke-linejoin="round" stroke-linecap="round" />
<path d="M1104.0 250.0C1108.2 249.4 1122.6 247.6 1130.0 246.0C1137.4 244.4 1141.4 245.8 1150.0 240.0C1158.6 234.2 1178.6 214.8 1184.0 210.0" fill="none" stroke="#d6d4d0" stroke-width="0.9" stroke-linejoin="round" stroke-linecap="round" />
<path d="M1104.0 250.0C1104.6 254.8 1104.8 272.6 1108.0 280.0C1111.2 287.4 1120.8 290.9 1124.0 296.0C1127.2 301.1 1127.4 309.4 1128.0 312.0" fill="none" stroke="#d6d4d0" stroke-width="0.9" stroke-linejoin="round" stroke-linecap="round" />
<polyline points="1140.0,250.0 1150.0,300.0" fill="none" stroke="#d6d4d0" stroke-width="0.9" stroke-linejoin="round" stroke-linecap="round" />
<path d="M700.0 331.0C698.4 332.4 692.2 336.0 690.0 340.0C687.8 344.0 686.6 353.4 686.0 356.0" fill="none" stroke="#d6d4d0" stroke-width="0.9" stroke-linejoin="round" stroke-linecap="round" />
<path d="M780.0 306.0C783.2 309.8 787.2 327.4 800.0 330.0C812.8 332.6 838.2 324.2 860.0 322.0C881.8 319.8 913.6 316.6 936.0 316.0C958.4 315.4 989.8 317.7 1000.0 318.0" fill="none" stroke="#d6d4d0" stroke-width="0.9" stroke-linejoin="round" stroke-linecap="round" />
<path d="M438.0 440.0C440.2 438.4 449.8 438.0 452.0 430.0C454.2 422.0 449.1 399.3 452.0 390.0C454.9 380.7 462.3 372.6 470.0 372.0C477.7 371.4 495.2 383.8 500.0 386.0" fill="none" stroke="#d6d4d0" stroke-width="0.9" stroke-linejoin="round" stroke-linecap="round" />
<path d="M500.0 386.0C501.6 389.8 503.6 403.0 510.0 410.0C516.4 417.0 532.0 425.2 540.0 430.0C548.0 434.8 555.2 432.0 560.0 440.0C564.8 448.0 568.4 473.6 570.0 480.0" fill="none" stroke="#d6d4d0" stroke-width="0.9" stroke-linejoin="round" stroke-linecap="round" />
<path d="M510.0 410.0C508.4 414.8 506.4 430.4 500.0 440.0C493.6 449.6 479.6 460.4 470.0 470.0C460.4 479.6 444.8 495.2 440.0 500.0" fill="none" stroke="#d6d4d0" stroke-width="0.9" stroke-linejoin="round" stroke-linecap="round" />
<path d="M438.0 470.0C443.1 470.0 460.9 467.1 470.0 470.0C479.1 472.9 491.0 485.1 495.0 488.0" fill="none" stroke="#d6d4d0" stroke-width="0.9" stroke-linejoin="round" stroke-linecap="round" />
<path d="M470.0 506.0C471.0 511.4 476.0 526.6 476.0 540.0C476.0 553.4 469.7 575.6 470.0 590.0C470.3 604.4 479.3 622.0 478.0 630.0C476.7 638.0 465.5 634.9 462.0 640.0C458.5 645.1 457.0 658.5 456.0 662.0" fill="none" stroke="#d6d4d0" stroke-width="0.9" stroke-linejoin="round" stroke-linecap="round" />
<path d="M438.0 550.0C444.1 552.4 462.9 561.5 476.0 565.0C489.1 568.5 513.0 570.9 520.0 572.0" fill="none" stroke="#d6d4d0" stroke-width="0.9" stroke-linejoin="round" stroke-linecap="round" />
<polyline points="438.0,612.0 470.0,590.0" fill="none" stroke="#d6d4d0" stroke-width="0.9" stroke-linejoin="round" stroke-linecap="round" />
<path d="M478.0 630.0C481.5 633.2 494.9 644.9 500.0 650.0C505.1 655.1 508.4 660.1 510.0 662.0" fill="none" stroke="#d6d4d0" stroke-width="0.9" stroke-linejoin="round" stroke-linecap="round" />
<polyline points="520.0,572.0 530.0,560.0" fill="none" stroke="#d6d4d0" stroke-width="0.9" stroke-linejoin="round" stroke-linecap="round" />
<path d="M590.0 500.0C591.6 506.4 599.0 527.2 600.0 540.0C601.0 552.8 589.6 570.4 596.0 580.0C602.4 589.6 629.8 590.4 640.0 600.0C650.2 609.6 655.5 632.0 660.0 640.0C664.5 648.0 666.7 648.4 668.0 650.0" fill="none" stroke="#d6d4d0" stroke-width="0.9" stroke-linejoin="round" stroke-linecap="round" />
<path d="M686.0 640.0C684.4 633.6 677.0 612.8 676.0 600.0C675.0 587.2 677.8 570.9 680.0 560.0C682.2 549.1 688.4 536.5 690.0 532.0" fill="none" stroke="#d6d4d0" stroke-width="0.9" stroke-linejoin="round" stroke-linecap="round" />
<path d="M743.0 520.0C742.5 526.4 742.1 547.2 740.0 560.0C737.9 572.8 733.8 587.2 730.0 600.0C726.2 612.8 718.9 630.1 716.0 640.0C713.1 649.9 712.6 658.5 712.0 662.0" fill="none" stroke="#d6d4d0" stroke-width="0.9" stroke-linejoin="round" stroke-linecap="round" />
<path d="M780.0 662.0C788.0 658.5 820.7 649.9 830.0 640.0C839.3 630.1 834.8 612.8 838.0 600.0C841.2 587.2 846.5 568.3 850.0 560.0C853.5 551.7 858.4 549.9 860.0 548.0" fill="none" stroke="#d6d4d0" stroke-width="0.9" stroke-linejoin="round" stroke-linecap="round" />
<path d="M866.0 548.0C868.2 545.1 873.9 533.5 880.0 530.0C886.1 526.5 896.0 526.0 904.0 526.0C912.0 526.0 924.2 527.8 930.0 530.0C935.8 532.2 938.4 538.4 940.0 540.0" fill="none" stroke="#d6d4d0" stroke-width="0.9" stroke-linejoin="round" stroke-linecap="round" />
<path d="M875.0 540.0C879.0 543.2 891.5 554.6 900.0 560.0C908.5 565.4 923.5 571.8 928.0 574.0" fill="none" stroke="#d6d4d0" stroke-width="0.9" stroke-linejoin="round" stroke-linecap="round" />
<path d="M940.0 590.0C941.6 594.8 949.0 608.5 950.0 620.0C951.0 631.5 946.6 655.3 946.0 662.0" fill="none" stroke="#d6d4d0" stroke-width="0.9" stroke-linejoin="round" stroke-linecap="round" />
<path d="M1060.0 483.0C1066.4 480.9 1087.2 470.8 1100.0 470.0C1112.8 469.2 1126.6 478.0 1140.0 478.0C1153.4 478.0 1177.0 471.3 1184.0 470.0" fill="none" stroke="#d6d4d0" stroke-width="0.9" stroke-linejoin="round" stroke-linecap="round" />
<path d="M1184.0 540.0C1178.6 543.2 1159.0 554.4 1150.0 560.0C1141.0 565.6 1136.0 570.2 1128.0 575.0C1120.0 579.8 1110.9 586.0 1100.0 590.0C1089.1 594.0 1066.4 598.4 1060.0 600.0" fill="none" stroke="#d6d4d0" stroke-width="0.9" stroke-linejoin="round" stroke-linecap="round" />
<path d="M1150.0 480.0C1151.6 484.0 1156.0 498.6 1160.0 505.0C1164.0 511.4 1171.2 511.2 1175.0 520.0C1178.8 528.8 1182.6 553.6 1184.0 560.0" fill="none" stroke="#d6d4d0" stroke-width="0.9" stroke-linejoin="round" stroke-linecap="round" />
<path d="M1000.0 412.0C1000.3 415.2 1002.6 426.9 1002.0 432.0C1001.4 437.1 997.0 442.1 996.0 444.0" fill="none" stroke="#d6d4d0" stroke-width="0.9" stroke-linejoin="round" stroke-linecap="round" />
<path d="M1066.0 400.0C1069.8 396.5 1080.4 385.0 1090.0 378.0C1099.6 371.0 1120.2 359.5 1126.0 356.0" fill="none" stroke="#d6d4d0" stroke-width="0.9" stroke-linejoin="round" stroke-linecap="round" />
<path d="M936.0 387.0C939.7 386.6 951.6 385.9 959.0 384.8C966.4 383.7 976.1 382.6 982.0 380.0C987.9 377.4 993.9 372.8 995.7 368.8C997.5 364.8 993.8 357.2 993.4 355.0" fill="none" stroke="#d6d4d0" stroke-width="0.9" stroke-linejoin="round" stroke-linecap="round" />
<path d="M760.0 352.0C766.4 350.1 788.8 343.2 800.0 340.0C811.2 336.8 820.4 334.9 830.0 332.0C839.6 329.1 855.2 323.6 860.0 322.0" fill="none" stroke="#d6d4d0" stroke-width="0.9" stroke-linejoin="round" stroke-linecap="round" />
<polyline points="640.0,355.0 660.0,330.0" fill="none" stroke="#d6d4d0" stroke-width="0.9" stroke-linejoin="round" stroke-linecap="round" />
<path d="M1070.0 410.0C1074.8 413.2 1090.4 420.4 1100.0 430.0C1109.6 439.6 1122.0 462.0 1130.0 470.0C1138.0 478.0 1146.8 478.4 1150.0 480.0" fill="none" stroke="#fbfbf8" stroke-width="1.6" stroke-linejoin="round" stroke-linecap="round" />
<path d="M1020.0 440.0C1021.6 436.8 1023.6 424.8 1030.0 420.0C1036.4 415.2 1055.2 411.6 1060.0 410.0" fill="none" stroke="#fbfbf8" stroke-width="1.6" stroke-linejoin="round" stroke-linecap="round" />
<path d="M660.0 560.0C666.4 564.8 691.0 577.2 700.0 590.0C709.0 602.8 713.4 632.0 716.0 640.0" fill="none" stroke="#fbfbf8" stroke-width="1.6" stroke-linejoin="round" stroke-linecap="round" />
<polyline points="600.0,262.0 600.0,282.0" fill="none" stroke="#d8b8c8" stroke-width="0.8" stroke-linejoin="round" stroke-linecap="round" stroke-dasharray="2 1.500"/>
<path d="M1018.0 205.0C1016.4 210.6 1009.9 229.6 1008.0 240.0C1006.1 250.4 1004.1 261.0 1006.0 270.0C1007.9 279.0 1017.1 289.3 1020.0 296.0C1022.9 302.7 1023.4 309.4 1024.0 312.0" fill="none" stroke="#d8b8c8" stroke-width="0.8" stroke-linejoin="round" stroke-linecap="round" stroke-dasharray="2 1.500"/>
<path d="M1090.0 228.0C1091.9 231.5 1099.4 241.7 1102.0 250.0C1104.6 258.3 1102.8 272.6 1106.0 280.0C1109.2 287.4 1118.8 290.9 1122.0 296.0C1125.2 301.1 1125.4 309.4 1126.0 312.0" fill="none" stroke="#d8b8c8" stroke-width="0.8" stroke-linejoin="round" stroke-linecap="round" stroke-dasharray="2 1.500"/>
<path d="M620.0 205.0C620.3 214.1 620.7 246.8 622.0 262.0C623.3 277.2 627.0 293.9 628.0 300.0" fill="none" stroke="#d8b8c8" stroke-width="0.8" stroke-linejoin="round" stroke-linecap="round" stroke-dasharray="2 1.500"/>
<path d="M564.6 508.0C562.7 510.2 553.7 516.3 553.0 521.8C552.3 527.3 557.1 537.3 560.0 542.4C562.9 547.5 570.7 550.4 571.4 553.9C572.1 557.4 568.6 563.6 564.6 564.2C560.6 564.8 551.7 556.8 546.2 557.4C540.7 558.0 532.9 563.8 530.0 567.7C527.1 571.6 525.9 578.2 527.8 581.5C529.7 584.8 537.2 585.0 541.6 588.3C546.0 591.6 552.1 597.2 555.4 602.0C558.7 606.8 562.7 612.7 562.3 618.2C561.9 623.7 555.9 632.2 553.0 636.6C550.1 641.0 545.0 642.4 543.9 645.7C542.8 649.0 547.3 654.4 546.2 657.2C545.1 660.0 538.5 662.1 537.0 663.0" fill="none" stroke="#a6abc2" stroke-width="2.2" stroke-linejoin="round" stroke-linecap="round" />
<path d="M564.6 508.0C562.7 510.2 553.7 516.3 553.0 521.8C552.3 527.3 557.1 537.3 560.0 542.4C562.9 547.5 570.7 550.4 571.4 553.9C572.1 557.4 568.6 563.6 564.6 564.2C560.6 564.8 551.7 556.8 546.2 557.4C540.7 558.0 532.9 563.8 530.0 567.7C527.1 571.6 525.9 578.2 527.8 581.5C529.7 584.8 537.2 585.0 541.6 588.3C546.0 591.6 552.1 597.2 555.4 602.0C558.7 606.8 562.7 612.7 562.3 618.2C561.9 623.7 555.9 632.2 553.0 636.6C550.1 641.0 545.0 642.4 543.9 645.7C542.8 649.0 547.3 654.4 546.2 657.2C545.1 660.0 538.5 662.1 537.0 663.0" fill="none" stroke="#e3e6f0" stroke-width="0.8" stroke-linejoin="round" stroke-linecap="round" />
<path d="M527.8 575.0C526.6 575.5 520.9 576.4 520.0 578.0C519.1 579.6 520.1 583.7 522.0 585.0C523.9 586.3 530.4 585.8 532.0 586.0" fill="none" stroke="#a6abc2" stroke-width="1" stroke-linejoin="round" stroke-linecap="round" />
<path d="M537.0 662.0C534.3 661.4 523.0 657.8 520.0 658.0C517.0 658.2 518.3 662.2 518.0 663.0" fill="none" stroke="#a6abc2" stroke-width="1" stroke-linejoin="round" stroke-linecap="round" />
<path d="M993.4 358.0C993.8 356.0 993.9 348.1 995.7 345.3C997.5 342.5 1003.4 342.9 1004.9 340.7C1006.4 338.5 1003.1 334.8 1004.9 331.5C1006.7 328.2 1013.4 322.9 1016.3 320.0C1019.2 317.1 1019.5 315.0 1023.2 313.2C1026.9 311.4 1032.7 309.2 1039.3 308.6C1045.9 308.0 1058.0 309.3 1064.6 309.7C1071.2 310.1 1075.5 311.6 1080.6 310.9C1085.7 310.2 1091.9 306.3 1096.7 305.2C1101.5 304.1 1106.5 303.1 1110.5 304.0C1114.5 304.9 1117.6 309.1 1122.0 310.9C1126.4 312.7 1133.2 315.9 1138.0 315.5C1142.8 315.1 1147.4 310.8 1151.8 308.6C1156.2 306.4 1160.1 302.8 1165.6 301.7C1171.1 300.6 1182.7 301.7 1186.0 301.7" fill="none" stroke="#adb1cb" stroke-width="1.5" stroke-linejoin="round" stroke-linecap="round" />
<path d="M998.0 355.0C999.8 358.7 1005.8 368.8 1009.5 378.0C1013.2 387.2 1018.8 403.6 1021.0 412.4C1023.2 421.2 1025.0 427.9 1023.2 433.0C1021.4 438.1 1011.7 442.7 1009.5 444.5" fill="none" stroke="#a9c9dc" stroke-width="1" stroke-linejoin="round" stroke-linecap="round" />
<path d="M1150.0 336.0C1148.4 337.6 1143.5 344.7 1140.0 346.0C1136.5 347.3 1131.5 342.4 1128.0 344.0C1124.5 345.6 1121.8 353.4 1118.0 356.0C1114.2 358.6 1106.9 357.4 1104.0 360.0C1101.1 362.6 1100.6 370.1 1100.0 372.0" fill="none" stroke="#a9c9dc" stroke-width="1" stroke-linejoin="round" stroke-linecap="round" />
<path d="M1060.0 410.0C1058.4 411.6 1052.2 416.5 1050.0 420.0C1047.8 423.5 1047.6 428.8 1046.0 432.0C1044.4 435.2 1041.0 438.7 1040.0 440.0" fill="none" stroke="#a9c9dc" stroke-width="1" stroke-linejoin="round" stroke-linecap="round" />
<path d="M686.0 404.0C691.4 405.3 708.2 411.0 720.0 412.0C731.8 413.0 747.2 408.7 760.0 410.0C772.8 411.3 793.6 418.4 800.0 420.0" fill="none" stroke="#b5d6e6" stroke-width="1.2" stroke-linejoin="round" stroke-linecap="round" />
<path d="M564.6 508.0C568.7 505.8 581.9 497.9 590.0 494.0C598.1 490.1 606.6 488.2 615.0 483.6C623.4 479.0 638.2 468.0 642.6 465.0" fill="none" stroke="#bcd8e6" stroke-width="1.4" stroke-linejoin="round" stroke-linecap="round" />
<path d="M936.0 387.0C939.7 386.6 951.6 385.9 959.0 384.8C966.4 383.7 976.1 382.6 982.0 380.0C987.9 377.4 993.9 372.8 995.7 368.8C997.5 364.8 993.8 357.2 993.4 355.0" fill="none" stroke="#a9a2b8" stroke-width="1" stroke-linejoin="round" stroke-linecap="round" />
<path d="M936.0 213.3C928.0 214.2 900.0 216.6 885.7 219.0C871.4 221.4 856.6 225.4 846.7 228.3C836.8 231.2 831.0 233.4 823.7 237.4C816.4 241.4 806.7 248.0 800.8 253.5C794.9 259.0 790.7 266.0 787.0 271.9C783.3 277.8 780.0 283.6 777.8 290.2C775.6 296.8 774.7 305.1 773.2 313.2C771.7 321.3 769.9 334.5 768.6 340.7C767.3 346.9 765.7 350.4 765.2 352.2" fill="none" stroke="#f4f7b4" stroke-width="2.6" stroke-linejoin="round" stroke-linecap="round" />
<path d="M784.7 205.3C784.3 209.0 776.2 223.2 782.4 228.3C788.6 233.4 817.1 235.9 823.7 237.4" fill="none" stroke="#f4f7b4" stroke-width="2" stroke-linejoin="round" stroke-linecap="round" />
<path d="M936.0 214.5C938.2 214.1 946.3 213.3 950.0 212.0C953.7 210.7 957.1 207.5 959.0 206.4C960.9 205.3 961.5 205.2 962.0 205.0" fill="none" stroke="#f4f7b4" stroke-width="2.6" stroke-linejoin="round" stroke-linecap="round" />
<path d="M883.4 435.3C887.1 434.6 898.0 433.4 906.4 430.8C914.8 428.2 925.8 423.0 936.0 419.3C946.2 415.6 959.4 410.6 970.4 407.8C981.4 405.0 992.0 403.3 1004.9 402.0C1017.8 400.7 1039.8 401.4 1050.8 399.8C1061.8 398.2 1066.4 395.6 1073.7 391.7C1081.0 387.8 1089.3 380.8 1096.7 375.7C1104.1 370.6 1113.1 363.7 1119.7 359.6C1126.3 355.5 1131.4 353.4 1138.0 350.0C1144.6 346.6 1153.3 340.6 1161.0 338.4C1168.7 336.2 1182.0 336.4 1186.0 336.0" fill="none" stroke="#f4f7b4" stroke-width="2.6" stroke-linejoin="round" stroke-linecap="round" />
<path d="M586.0 330.0C588.2 332.4 594.6 340.8 600.0 345.0C605.4 349.2 616.8 354.2 620.0 356.0" fill="none" stroke="#f4f7b4" stroke-width="2" stroke-linejoin="round" stroke-linecap="round" />
<path d="M588.0 318.0C591.8 319.9 603.7 325.7 612.0 330.0C620.3 334.3 629.1 341.5 640.0 345.0C650.9 348.5 673.6 350.9 680.0 352.0" fill="none" stroke="#f4f7b4" stroke-width="1.6" stroke-linejoin="round" stroke-linecap="round" />
<path d="M918.5 528.0C920.3 531.8 926.9 546.9 930.0 552.0C933.1 557.1 935.8 556.3 938.0 560.0C940.2 563.7 944.3 570.5 944.0 575.0C943.7 579.5 938.6 587.2 936.0 588.0C933.4 588.8 929.0 584.5 928.0 580.0C927.0 575.5 929.7 563.2 930.0 560.0" fill="none" stroke="#e9ef9a" stroke-width="1.4" stroke-linejoin="round" stroke-linecap="round" />
<path d="M610.0 370.0C614.8 373.5 632.0 384.0 640.0 392.0C648.0 400.0 656.8 415.5 660.0 420.0" fill="none" stroke="#f3f2c0" stroke-width="1.3" stroke-linejoin="round" stroke-linecap="round" />
<polyline points="600.0,400.0 640.0,398.0" fill="none" stroke="#f3f2c0" stroke-width="1.3" stroke-linejoin="round" stroke-linecap="round" />
<path d="M820.0 420.0C824.8 425.6 840.4 445.4 850.0 455.0C859.6 464.6 875.2 476.0 880.0 480.0" fill="none" stroke="#f3f2c0" stroke-width="1.3" stroke-linejoin="round" stroke-linecap="round" />
<path d="M750.0 450.0C756.4 453.2 778.8 463.6 790.0 470.0C801.2 476.4 815.2 486.8 820.0 490.0" fill="none" stroke="#f3f2c0" stroke-width="1.3" stroke-linejoin="round" stroke-linecap="round" />
<path d="M760.0 372.0C764.8 373.3 782.8 375.5 790.0 380.0C797.2 384.5 802.6 396.8 805.0 400.0" fill="none" stroke="#f3f2c0" stroke-width="1.3" stroke-linejoin="round" stroke-linecap="round" />
<path d="M716.0 440.0C723.0 441.9 746.6 450.4 760.0 452.0C773.4 453.6 793.6 450.3 800.0 450.0" fill="none" stroke="#f3f2c0" stroke-width="1.3" stroke-linejoin="round" stroke-linecap="round" />
<path d="M700.0 352.0C701.0 356.5 704.1 370.7 706.0 380.0C707.9 389.3 710.4 400.4 712.0 410.0C713.6 419.6 714.7 430.4 716.0 440.0C717.3 449.6 719.4 465.2 720.0 470.0" fill="none" stroke="#f3f2c0" stroke-width="1.3" stroke-linejoin="round" stroke-linecap="round" />
<path d="M650.0 395.0C656.4 395.8 676.1 397.9 690.0 400.0C703.9 402.1 722.6 407.4 737.0 408.0C751.4 408.6 769.1 405.3 780.0 404.0C790.9 402.7 801.0 400.6 805.0 400.0" fill="none" stroke="#f3f2c0" stroke-width="1.3" stroke-linejoin="round" stroke-linecap="round" />
<path d="M737.0 380.0C737.0 384.5 736.5 398.4 737.0 408.0C737.5 417.6 738.9 430.1 740.0 440.0C741.1 449.9 743.4 465.2 744.0 470.0" fill="none" stroke="#f3f2c0" stroke-width="1.3" stroke-linejoin="round" stroke-linecap="round" />
<path d="M760.0 372.0C761.3 376.5 764.8 390.7 768.0 400.0C771.2 409.3 774.9 422.0 780.0 430.0C785.1 438.0 796.8 446.8 800.0 450.0" fill="none" stroke="#f3f2c0" stroke-width="1.3" stroke-linejoin="round" stroke-linecap="round" />
<path d="M690.0 430.0C694.8 430.0 708.8 430.3 720.0 430.0C731.2 429.7 753.6 428.3 760.0 428.0" fill="none" stroke="#f3f2c0" stroke-width="1.3" stroke-linejoin="round" stroke-linecap="round" />
<path d="M670.0 440.0C674.8 441.6 690.4 446.8 700.0 450.0C709.6 453.2 725.2 458.4 730.0 460.0" fill="none" stroke="#f3f2c0" stroke-width="1.3" stroke-linejoin="round" stroke-linecap="round" />
<path d="M780.0 404.0C783.2 406.6 792.0 414.2 800.0 420.0C808.0 425.8 825.2 436.8 830.0 440.0" fill="none" stroke="#f3f2c0" stroke-width="1.3" stroke-linejoin="round" stroke-linecap="round" />
<path d="M743.4 428.5C748.9 428.1 767.9 424.7 777.8 426.2C787.7 427.7 798.1 433.2 805.4 437.6C812.7 442.0 817.1 447.8 823.7 453.7C830.3 459.6 840.1 467.4 846.7 474.4C853.3 481.4 857.7 494.7 865.0 497.3C872.3 499.9 884.5 490.8 892.6 490.4C900.7 490.0 911.5 488.9 915.6 495.0C919.7 501.1 917.4 518.0 918.5 528.7C919.6 539.4 920.4 554.9 922.2 562.0C924.0 569.1 928.4 571.2 929.6 573.0" fill="none" stroke="#c2b88a" stroke-width="1.5" stroke-linejoin="round" stroke-linecap="round" />
<path d="M720.0 395.0C723.2 395.8 733.6 400.5 740.0 400.0C746.4 399.5 755.2 395.2 760.0 392.0C764.8 388.8 768.4 381.9 770.0 380.0" fill="none" stroke="#c2b88a" stroke-width="1.2" stroke-linejoin="round" stroke-linecap="round" />
<path d="M650.0 380.0C656.4 381.9 682.0 385.6 690.0 392.0C698.0 398.4 700.0 412.3 700.0 420.0C700.0 427.7 691.6 436.8 690.0 440.0" fill="none" stroke="#a9a99a" stroke-width="1" stroke-linejoin="round" stroke-linecap="round" />
<path d="M744.8 501.0C746.0 503.7 749.0 510.2 752.0 517.6C755.0 525.0 759.7 536.9 763.3 547.0C766.9 557.1 770.8 566.9 774.4 580.6C778.0 594.3 783.2 619.2 785.6 632.4C788.0 645.6 788.7 658.1 789.3 663.0" fill="none" stroke="#f3cc9e" stroke-width="2.4" stroke-linejoin="round" stroke-linecap="round" />
<polyline points="730.0,482.0 744.8,501.0" fill="none" stroke="#f3cc9e" stroke-width="2.2" stroke-linejoin="round" stroke-linecap="round" />
<path d="M822.0 499.0C825.6 499.9 837.2 504.6 844.4 504.6C851.6 504.6 858.4 501.7 866.7 499.0C875.0 496.3 891.6 489.8 896.3 488.0" fill="none" stroke="#f3cc9e" stroke-width="2.2" stroke-linejoin="round" stroke-linecap="round" />
<path d="M640.0 372.0C643.2 373.0 652.0 378.0 660.0 378.0C668.0 378.0 680.4 373.9 690.0 372.0C699.6 370.1 711.2 369.2 720.0 366.0C728.8 362.8 741.0 354.2 745.0 352.0" fill="none" stroke="#f3cc9e" stroke-width="1.6" stroke-linejoin="round" stroke-linecap="round" />
<path d="M686.0 387.0C681.8 388.4 668.0 392.3 660.0 396.0C652.0 399.7 639.8 407.8 636.0 410.0" fill="none" stroke="#f3cc9e" stroke-width="1.6" stroke-linejoin="round" stroke-linecap="round" />
<polyline points="700.0,352.0 690.0,383.0" fill="none" stroke="#f3cc9e" stroke-width="1.4" stroke-linejoin="round" stroke-linecap="round" />
<path d="M800.0 450.0C803.2 453.2 812.6 465.8 820.0 470.0C827.4 474.2 841.8 475.0 846.0 476.0" fill="none" stroke="#f3cc9e" stroke-width="1.4" stroke-linejoin="round" stroke-linecap="round" />
<path d="M438.0 296.0C447.3 299.1 475.7 308.7 496.0 315.5C516.3 322.3 545.2 331.9 565.0 338.4C584.8 344.9 607.8 350.7 620.0 356.0C632.2 361.3 633.8 366.2 641.5 371.5C649.2 376.8 660.4 387.2 668.0 389.0C675.6 390.8 680.9 384.4 689.0 383.0C697.1 381.6 710.6 383.3 718.6 380.0C726.6 376.7 734.3 367.7 739.0 362.6C743.7 357.5 746.6 350.3 748.0 348.0" fill="none" stroke="#eaa79e" stroke-width="3" stroke-linejoin="round" stroke-linecap="round" />
<path d="M620.0 356.0C622.1 359.5 630.9 369.4 633.4 378.0C635.9 386.6 632.1 399.0 635.7 410.0C639.3 421.0 655.6 437.4 656.0 447.0C656.4 456.6 645.3 464.9 638.0 470.0C630.7 475.1 621.5 477.4 610.5 479.0C599.5 480.6 578.9 477.6 569.0 480.0C559.1 482.4 553.6 492.3 548.5 494.0C543.4 495.7 545.8 491.2 537.0 490.4C528.2 489.6 503.7 486.7 493.4 489.3C483.1 491.9 478.2 500.6 472.7 506.5C467.2 512.4 464.6 522.4 459.0 526.0C453.4 529.6 441.4 528.3 438.0 528.7" fill="none" stroke="#ecb0a7" stroke-width="2.1" stroke-linejoin="round" stroke-linecap="round" />
<path d="M668.0 389.0C667.3 393.8 666.0 409.5 663.7 419.0C661.4 428.5 649.8 442.0 653.4 448.6C657.0 455.2 679.8 455.7 686.0 460.4C692.2 465.1 685.4 474.9 692.0 478.0C698.6 481.1 721.8 479.4 727.5 479.7" fill="none" stroke="#ecb0a7" stroke-width="2.1" stroke-linejoin="round" stroke-linecap="round" />
<path d="M720.0 350.0C724.5 349.7 740.6 347.7 748.0 348.0C755.4 348.3 760.3 348.7 766.0 352.0C771.7 355.3 779.0 362.5 783.8 368.5C788.6 374.5 791.9 383.6 795.7 389.3C799.5 395.0 802.8 397.8 807.5 404.0C812.2 410.2 820.5 422.1 825.3 427.8C830.1 433.5 830.6 434.9 837.2 439.7C843.8 444.5 856.8 452.0 866.8 457.5C876.8 463.0 888.9 468.8 900.0 473.8C911.1 478.8 926.2 485.0 936.0 489.0C945.8 493.0 952.6 494.9 961.0 498.5C969.4 502.1 980.7 507.7 988.8 511.4C996.9 515.1 1004.5 516.8 1011.8 521.8C1019.1 526.8 1027.0 535.4 1034.7 542.4C1042.4 549.4 1053.0 559.5 1060.0 565.4C1067.0 571.3 1071.7 573.7 1078.3 579.2C1084.9 584.7 1093.6 593.6 1101.3 599.8C1109.0 606.0 1118.4 612.3 1126.5 618.2C1134.6 624.1 1144.4 630.7 1151.8 636.6C1159.2 642.5 1167.0 650.6 1172.5 655.0C1178.0 659.4 1183.8 662.6 1186.0 664.0" fill="none" stroke="#eaa79e" stroke-width="3" stroke-linejoin="round" stroke-linecap="round" />
<path d="M436.0 338.4C439.7 340.3 451.6 346.9 459.0 350.0C466.4 353.1 474.6 352.4 482.0 358.0C489.4 363.6 496.9 379.0 505.0 384.8C513.1 390.6 524.3 390.3 532.4 394.0C540.5 397.7 547.3 404.1 555.4 407.8C563.5 411.5 573.5 415.5 583.0 417.0C592.5 418.5 605.5 417.7 615.0 417.0C624.5 416.3 631.2 415.1 642.6 412.4C654.0 409.7 673.6 403.3 686.0 400.0C698.4 396.7 709.4 394.1 720.4 391.7C731.4 389.3 742.0 387.7 754.9 384.8C767.8 381.9 786.1 376.3 800.8 373.4C815.5 370.5 832.0 368.5 846.7 366.5C861.4 364.5 878.3 362.5 892.6 360.7C906.9 358.9 919.9 358.0 936.0 355.5C952.1 353.0 975.0 348.0 993.4 345.3C1011.8 342.6 1032.1 341.0 1050.8 338.4C1069.5 335.8 1096.9 331.1 1110.5 329.3C1124.1 327.5 1123.6 327.4 1135.7 327.0C1147.8 326.6 1178.0 327.0 1186.0 327.0" fill="none" stroke="#7c7c7c" stroke-width="1.8" stroke-linejoin="round" stroke-linecap="round" />
<path d="M436.0 338.4C439.7 340.3 451.6 346.9 459.0 350.0C466.4 353.1 474.6 352.4 482.0 358.0C489.4 363.6 496.9 379.0 505.0 384.8C513.1 390.6 524.3 390.3 532.4 394.0C540.5 397.7 547.3 404.1 555.4 407.8C563.5 411.5 573.5 415.5 583.0 417.0C592.5 418.5 605.5 417.7 615.0 417.0C624.5 416.3 631.2 415.1 642.6 412.4C654.0 409.7 673.6 403.3 686.0 400.0C698.4 396.7 709.4 394.1 720.4 391.7C731.4 389.3 742.0 387.7 754.9 384.8C767.8 381.9 786.1 376.3 800.8 373.4C815.5 370.5 832.0 368.5 846.7 366.5C861.4 364.5 878.3 362.5 892.6 360.7C906.9 358.9 919.9 358.0 936.0 355.5C952.1 353.0 975.0 348.0 993.4 345.3C1011.8 342.6 1032.1 341.0 1050.8 338.4C1069.5 335.8 1096.9 331.1 1110.5 329.3C1124.1 327.5 1123.6 327.4 1135.7 327.0C1147.8 326.6 1178.0 327.0 1186.0 327.0" fill="none" stroke="#d8d8d8" stroke-width="0.6" stroke-linejoin="round" stroke-linecap="round" stroke-dasharray="4 4"/>
<path d="M438.0 344.0C440.9 345.9 450.9 351.5 456.0 356.0C461.1 360.5 465.2 368.2 470.0 372.0C474.8 375.8 480.4 378.0 486.0 380.0C491.6 382.0 502.0 384.0 505.0 384.8" fill="none" stroke="#7c7c7c" stroke-width="1.2" stroke-linejoin="round" stroke-linecap="round" />
<path d="M470.0 355.0C473.2 356.1 483.6 358.6 490.0 362.0C496.4 365.4 503.2 370.9 510.0 376.0C516.8 381.1 528.8 391.1 532.4 394.0" fill="none" stroke="#7c7c7c" stroke-width="1.2" stroke-linejoin="round" stroke-linecap="round" />
<path d="M642.6 465.0C638.2 468.0 624.5 479.2 615.0 483.6C605.5 488.0 591.1 488.5 583.0 492.7C574.9 496.9 567.5 507.2 564.6 510.0" fill="none" stroke="#8a8a8a" stroke-width="1.2" stroke-linejoin="round" stroke-linecap="round" />
<path d="M555.4 407.8C562.5 410.6 586.5 421.4 600.0 425.0C613.5 428.6 627.2 430.8 640.0 430.0C652.8 429.2 667.2 424.0 680.0 420.0C692.8 416.0 707.2 408.2 720.0 405.0C732.8 401.8 748.8 399.2 760.0 400.0C771.2 400.8 785.2 408.4 790.0 410.0" fill="none" stroke="#b5b5b5" stroke-width="0.9" stroke-linejoin="round" stroke-linecap="round" />
<rect x="438" y="235.5" width="747" height="1" fill="#fff" opacity=".45"/>
<rect x="438" y="406.5" width="747" height="1" fill="#fff" opacity=".45"/>
<rect x="438" y="577.5" width="747" height="1" fill="#fff" opacity=".45"/>
</g>
<rect x="495.5" y="314.2" width="19" height="9.5" rx="1.500" fill="#f6d5cf" stroke="#d98a80" stroke-width=".7"/>
<text x="505.0" y="321.2" font-size="6.2" fill="#8a3a32" text-anchor="middle">D200</text>
<rect x="516.2" y="483.8" width="21" height="10" rx="1.500" fill="#f6d5cf" stroke="#d98a80" stroke-width=".7"/>
<text x="526.7" y="491.2" font-size="6.6" fill="#8a3a32" text-anchor="middle">D230</text>
<rect x="1058.0" y="568.0" width="20" height="10" rx="1.500" fill="#f6d5cf" stroke="#d98a80" stroke-width=".7"/>
<text x="1068.0" y="575.4" font-size="6.6" fill="#8a3a32" text-anchor="middle">D200</text>
<rect x="885.8" y="211.9" width="26" height="10.5" rx="1.500" fill="#f5f7c0" stroke="#cfd38a" stroke-width=".7"/>
<text x="898.8" y="219.5" font-size="6.4" fill="#5a5c2a" text-anchor="middle">26-01</text>
<rect x="851.6" y="434.1" width="22" height="9.5" rx="1.500" fill="#f5f7c0" stroke="#cfd38a" stroke-width=".7"/>
<text x="862.6" y="441.0" font-size="6" fill="#5a5c2a" text-anchor="middle">26-25</text>
<g stroke="#f6f4ee" stroke-width="1.600" paint-order="stroke" stroke-linejoin="round">
<text x="538.2" y="286.2" font-size="6.6" fill="#4a4a4a" text-anchor="middle" >Yukarı Söğütönü</text>
<text x="592.0" y="303.7" font-size="6.6" fill="#4a4a4a" text-anchor="middle" >Yaşamkent</text>
<text x="575.0" y="324.4" font-size="6.6" fill="#4a4a4a" text-anchor="middle" >Aşağı Söğütönü</text>
<text x="638.0" y="358.1" font-size="6.6" fill="#4a4a4a" text-anchor="middle" >Zincirlikuyu</text>
<text x="782.4" y="238.7" font-size="6.6" fill="#4a4a4a" text-anchor="middle" >Muttalip Koyunlar</text>
<text x="782.4" y="247.9" font-size="6.6" fill="#4a4a4a" text-anchor="middle" >Mah.</text>
<text x="705.5" y="289.2" font-size="6.6" fill="#4a4a4a" text-anchor="middle" >Sakintepe</text>
<text x="775.5" y="334.0" font-size="6.6" fill="#4a4a4a" text-anchor="middle" >Gazipaşa</text>
<text x="701.0" y="356.9" font-size="6.6" fill="#4a4a4a" text-anchor="middle" >Yeşiltepe</text>
<text x="1042.0" y="234.8" font-size="6.6" fill="#4a4a4a" text-anchor="middle" >Ahılar</text>
<text x="977.0" y="269.2" font-size="6.6" fill="#4a4a4a" text-anchor="middle" >Cumhuriyet</text>
<text x="1060.0" y="279.4" font-size="6.6" fill="#4a4a4a" text-anchor="middle" >Gökdere</text>
<text x="1140.3" y="334.4" font-size="6.6" fill="#4a4a4a" text-anchor="middle" >Çavlum</text>
<text x="519.8" y="392.4" font-size="6.6" fill="#4a4a4a" text-anchor="middle" >Boyacıoğlu</text>
<text x="657.5" y="411.8" font-size="6.6" fill="#4a4a4a" text-anchor="middle" >Ertuğrulgazi</text>
<text x="637.0" y="430.9" font-size="6.6" fill="#4a4a4a" text-anchor="middle" >Sazova</text>
<text x="677.0" y="430.9" font-size="6.6" fill="#4a4a4a" text-anchor="middle" >Sümer</text>
<text x="642.6" y="462.4" font-size="6.6" fill="#4a4a4a" text-anchor="middle" >Orhangazi</text>
<text x="617.4" y="502.0" font-size="6.6" fill="#4a4a4a" text-anchor="middle" >Karacaşehir</text>
<text x="672.5" y="375.4" font-size="6.6" fill="#4a4a4a" text-anchor="middle" >Uluönder</text>
<text x="442.5" y="443.4" font-size="6.6" fill="#4a4a4a" text-anchor="middle" >Yusuflar</text>
<text x="779.0" y="360.8" font-size="6.6" fill="#4a4a4a" text-anchor="middle" >Fevziçakmak</text>
<text x="728.5" y="376.9" font-size="6.6" fill="#4a4a4a" text-anchor="middle" >Bahçelievler</text>
<text x="763.0" y="396.9" font-size="6.6" fill="#4a4a4a" text-anchor="middle" >Şeker</text>
<text x="794.0" y="437.7" font-size="6.6" fill="#4a4a4a" text-anchor="middle" >Yenidoğan</text>
<text x="724.6" y="448.8" font-size="6.6" fill="#4a4a4a" text-anchor="middle" >Yıldıztepe</text>
<text x="795.0" y="453.8" font-size="6.6" fill="#4a4a4a" text-anchor="middle" >Erenköy</text>
<text x="732.0" y="465.4" font-size="6.6" fill="#4a4a4a" text-anchor="middle" >Vişnelikent</text>
<text x="857.0" y="480.7" font-size="6.6" fill="#4a4a4a" text-anchor="middle" >71 Evler</text>
<text x="766.3" y="502.4" font-size="6.6" fill="#4a4a4a" text-anchor="middle" >Ihlamurkent</text>
<text x="916.7" y="373.4" font-size="6.6" fill="#4a4a4a" text-anchor="middle" >Hasanbey</text>
<text x="932.6" y="431.8" font-size="6.6" fill="#4a4a4a" text-anchor="middle" >Karacahöyük</text>
<text x="1066.4" y="394.4" font-size="6.6" fill="#4a4a4a" text-anchor="middle" >Sevinç</text>
<text x="1001.0" y="414.4" font-size="6.6" fill="#4a4a4a" text-anchor="middle" >Yassıhöyük</text>
<text x="468.0" y="519.1" font-size="6.6" fill="#4a4a4a" text-anchor="middle" >Yeni Akçayır</text>
<text x="513.0" y="575.4" font-size="6.6" fill="#4a4a4a" text-anchor="middle" >Kızılinler</text>
<text x="564.0" y="591.9" font-size="6.6" fill="#4a4a4a" text-anchor="middle" >Eşenkara</text>
<text x="650.0" y="630.9" font-size="6.6" fill="#4a4a4a" text-anchor="middle" >Kayapınar</text>
<text x="668.0" y="653.2" font-size="6.6" fill="#4a4a4a" text-anchor="middle" >Aşağı Çağlan</text>
<text x="908.0" y="526.9" font-size="6.6" fill="#4a4a4a" text-anchor="middle" >Sultandere</text>
<text x="865.7" y="552.9" font-size="6.6" fill="#4a4a4a" text-anchor="middle" >Gülpınar</text>
<text x="927.0" y="576.4" font-size="6.6" fill="#4a4a4a" text-anchor="middle" >75. Yıl (Sultandere)</text>
<text x="827.0" y="655.7" font-size="6.6" fill="#4a4a4a" text-anchor="middle" >Sarısungur</text>
<text x="1019.8" y="539.8" font-size="6.6" fill="#4a4a4a" text-anchor="middle" >Kanlıpınar</text>
<text x="727.3" y="394.7" font-size="8.4" fill="#444" text-anchor="middle" >Tepebaşı</text>
<text x="745.7" y="433.8" font-size="8.4" fill="#444" text-anchor="middle" >Odunpazarı</text>
<text x="737.0" y="412.4" font-size="9.4" fill="#505050" text-anchor="middle" >Eskişehir</text>
<text x="1135.500" y="513.100" font-size="6.400" fill="#4a4a4a">Yürük Karacaören</text>
<text x="736.5" y="330.3" font-size="6.4" fill="#8666ad" text-anchor="middle" font-style="italic">Eskişehir</text>
<text x="736.5" y="338.0" font-size="6.4" fill="#8666ad" text-anchor="middle" font-style="italic">Hasan</text>
<text x="736.5" y="345.3" font-size="6.4" fill="#8666ad" text-anchor="middle" font-style="italic">Polatkan</text>
<text x="736.5" y="353.3" font-size="6.4" fill="#8666ad" text-anchor="middle" font-style="italic">Havalimanı</text>
<text x="857.0" y="402.1" font-size="6.4" fill="#8666ad" text-anchor="middle" font-style="italic">1. Ana</text>
<text x="857.0" y="410.1" font-size="6.4" fill="#8666ad" text-anchor="middle" font-style="italic">Jet Üs Komutanlığı</text>
<text x="956.7" y="378.8" font-size="5.6" fill="#a07ab8" text-anchor="middle" >Tepebaşı</text>
<text x="974.8" y="500.2" font-size="8.2" fill="#8666ad" text-anchor="middle" font-style="italic">Eskişehir</text>
<text x="974.8" y="510.2" font-size="8.2" fill="#8666ad" text-anchor="middle" font-style="italic">Organize</text>
<text x="974.0" y="519.5" font-size="8.2" fill="#8666ad" text-anchor="middle" font-style="italic">Sanayi</text>
<text x="973.3" y="528.7" font-size="8.2" fill="#8666ad" text-anchor="middle" font-style="italic">Bölgesi</text>
<text x="973.3" y="538.0" font-size="8.2" fill="#8666ad" text-anchor="middle" font-style="italic">(OSB)</text>
<text x="1142.6" y="591.7" font-size="6.2" fill="#8666ad" text-anchor="middle" font-style="italic">Eskişehir</text>
<text x="1142.6" y="599.5" font-size="6.2" fill="#8666ad" text-anchor="middle" font-style="italic">Organize</text>
<text x="1139.0" y="607.4" font-size="6.2" fill="#8666ad" text-anchor="middle" font-style="italic">Sanayi</text>
<text x="1139.0" y="615.2" font-size="6.2" fill="#8666ad" text-anchor="middle" font-style="italic">Bölgesi</text>
<text x="1142.6" y="623.2" font-size="6.2" fill="#8666ad" text-anchor="middle" font-style="italic">(OSB) İmişehir</text>
<text x="1080.4" y="506.5" font-size="5.4" fill="#7f9f74" text-anchor="middle" stroke="none">Kanlıpınar</text>
<text x="1080.4" y="514.7" font-size="5.4" fill="#7f9f74" text-anchor="middle" stroke="none">Şehirliği</text>
<text x="1080.4" y="522.5" font-size="5.4" fill="#7f9f74" text-anchor="middle" stroke="none">Ormanı</text>
</g>
<text font-size="6" fill="#8d8d8d" transform="translate(538,402) rotate(24)">Ankara - İstanbul yüksek hızlı demiryolu</text>
<text font-size="6" fill="#8d8d8d" transform="translate(802,371) rotate(-8.500)">Ankara - İstanbul yüksek hızlı demiryolu</text>
<text font-size="6" fill="#8d8d8d" transform="translate(1113,326.500) rotate(-5)">Ankara - İstanbul yüksek</text>
<g transform="translate(736.5,317) scale(0.85)" fill="#8461c4"><path d="M0-4.500c.7 0 .9 1 .9 2v1.300l4 2.400v1.100l-4-1.200v2.200l1.200 1v.8L0 4.500l-2.100.6v-.8l1.200-1v-2.200l-4 1.200v-1.100l4-2.400v-1.300c0-1 .2-2 .9-2z"/></g>
<g transform="translate(857,390.6) scale(0.85)" fill="#8461c4"><path d="M0-4.500c.7 0 .9 1 .9 2v1.300l4 2.400v1.100l-4-1.200v2.200l1.200 1v.8L0 4.500l-2.100.6v-.8l1.200-1v-2.200l-4 1.200v-1.100l4-2.400v-1.300c0-1 .2-2 .9-2z"/></g>
<path d="M555.200 347l2.200 3.600h-4.400zM531.300 357.300l2.200 3.600h-4.400z" fill="#d08f55"/>
<polyline points="728.500,479 744.500,496.200 748,497.300 771,483.600 787,483.600 803,490.400 810,489.300 823.700,507.700 835.200,521.800 846.700,535.500 857,544.700 864,544.700 874.200,537.800 875.400,533.300" fill="none" stroke="#2a22c4" stroke-width="2.900" stroke-dasharray="5.500 8" stroke-linejoin="round" stroke-linecap="round"/>
<circle cx="694.3" cy="451.6" r="11" fill="#2fcb5e" stroke="#27b452" stroke-width=".8"/>
<g transform="translate(694.3,454.8) scale(1.0)"><path d="M-6.200 2.600c-.6 0-1-.4-1-1v-1.400c0-.8.500-1.300 1.300-1.500l1.200-.3 1.100-2c.3-.6.800-.9 1.500-.9h4.200c.7 0 1.200.3 1.500.9l1.100 2 1.200.3c.8.200 1.300.7 1.300 1.500v1.400c0 .6-.4 1-1 1z" fill="#c8161d"/><path d="M-3.400-.9l.9-1.700h5l.9 1.700z" fill="#5a0d12"/><ellipse cx="-4.200" cy="2.700" rx="1.400" ry="1.100" fill="#2a0a0c"/><ellipse cx="4.200" cy="2.700" rx="1.400" ry="1.100" fill="#2a0a0c"/></g>
<g transform="translate(693,441.5) rotate(-32)"><rect x="-4.500" y="-3.600" width="9" height="7.200" rx="1" fill="#2f86e8"/><rect x="-4.500" y="-3.600" width="9" height="2.200" rx="1" fill="#1d3f94"/><rect x="-2.500" y="-.2" width="5" height="1.300" fill="#9fd0ff"/></g>
<circle cx="702.3" cy="444" r="2.900" fill="#3ddc6e" stroke="#d9ffe4" stroke-width="1.100"/>
<circle cx="738.8" cy="429.3" r="9.3" fill="#2fcb5e" stroke="#27b452" stroke-width=".8"/>
<g transform="translate(738.8,432.00545454545454) scale(0.8454545454545456)"><path d="M-6.200 2.600c-.6 0-1-.4-1-1v-1.400c0-.8.500-1.300 1.300-1.500l1.200-.3 1.100-2c.3-.6.800-.9 1.500-.9h4.200c.7 0 1.200.3 1.500.9l1.100 2 1.200.3c.8.200 1.300.7 1.300 1.500v1.400c0 .6-.4 1-1 1z" fill="#c8161d"/><path d="M-3.400-.9l.9-1.700h5l.9 1.700z" fill="#5a0d12"/><ellipse cx="-4.200" cy="2.700" rx="1.400" ry="1.100" fill="#2a0a0c"/><ellipse cx="4.200" cy="2.700" rx="1.400" ry="1.100" fill="#2a0a0c"/></g>
<g transform="translate(737,421) rotate(-32)"><rect x="-4.500" y="-3.600" width="9" height="7.200" rx="1" fill="#2f86e8"/><rect x="-4.500" y="-3.600" width="9" height="2.200" rx="1" fill="#1d3f94"/><rect x="-2.500" y="-.2" width="5" height="1.300" fill="#9fd0ff"/></g>
<circle cx="744.6" cy="425" r="2.900" fill="#3ddc6e" stroke="#d9ffe4" stroke-width="1.100"/>
<circle cx="727.100" cy="469" r="9.800" fill="#1515e6"/>
<rect x="722.200" y="466.200" width="10" height="6.200" rx=".8" fill="#f3d9dc"/><rect x="725.200" y="467.200" width="6.600" height="4.200" fill="#e0202b"/><path d="M723 467.800h2M723 469.300h2M723 470.800h2" stroke="#e0303a" stroke-width=".7"/><path d="M726 469.300h5" stroke="#f7c9cc" stroke-width=".8"/>
<circle cx="867.700" cy="529.400" r="10" fill="#e0101a" stroke="#cf0612" stroke-width="1.200"/>
<path d="M867.700 525c.5 1.700 2.900 3 2.900 5.700a2.950 2.950 0 0 1-5.900 0c0-1.200.7-2.200 1.200-2.700.2.800.7 1.200 1 1.200-.3-1.500.2-3.200.8-4.200z" fill="#ff8a1f"/><path d="M867.700 529.800c.4.800 1.400 1.400 1.400 2.500a1.400 1.400 0 0 1-2.800 0c0-.9.800-1.500 1.400-2.500z" fill="#ffe066"/>
<g transform="translate(584,244)" fill="#fff" stroke="#333" stroke-width=".8" stroke-linejoin="round"><path d="M-3.500 1.500l-1.200-2.200c-.5-1 .8-1.700 1.400-.8l.8 1.100v-3.400c0-1 1.400-1 1.400 0v-.5c0-1 1.500-1 1.500 0v.5c0-1 1.500-.9 1.500.1v.6c0-.9 1.400-.8 1.400.2v3.400c0 2-1 3.500-3.200 3.500-1.800 0-2.800-.8-3.600-2.500z"/></g>
</svg>
<div class="abs" style="left:446.300px;top:212.800px;width:20px;height:40.500px;background:#fff;border-radius:3px;box-shadow:0 0 0 1.100px rgba(0,0,0,.2)"></div>
<div class="abs" style="left:446.300px;top:232.800px;width:20px;height:1px;background:#ccc"></div>
<div class="t" style="left:446.300px;width:20px;text-align:center;top:215px;font-size:14.500px;font-weight:700;color:#111;font-family:'DejaVu Sans',sans-serif">+</div>
<div class="t" style="left:446.300px;width:20px;text-align:center;top:235.300px;font-size:14.500px;font-weight:700;color:#333;font-family:'DejaVu Sans',sans-serif">−</div>
<div class="abs" style="left:1121px;top:216px;width:52.500px;height:38px;background:#fff;border-radius:5px;box-shadow:0 1px 4px rgba(0,0,0,.18)"></div>
<div class="abs" style="left:1126px;top:224px;width:8px;height:8px;border-radius:50%;background:#22c55e"></div>
<div class="t" style="left:1139.500px;top:223px;font-size:9.600px;font-weight:700;color:#15151a;letter-spacing:-.15px">Bağlı</div>
<div class="t" style="left:1126px;top:238.500px;font-size:8.600px;color:#55555e">7 araç aktif</div>
<div class="abs" style="left:1016px;top:654.500px;width:169px;height:9px;background:rgba(255,255,255,.82)"></div>
<svg class="abs" style="left:1019px;top:656.500px" width="8" height="5" viewBox="0 0 8 5"><rect width="8" height="2.500" fill="#4c7be1"/><rect y="2.500" width="8" height="2.500" fill="#ffd500"/></svg>
<div class="t" style="left:1029px;top:654.800px;font-size:8.700px;color:#333"><span style="color:#0078a8">Leaflet</span> <span style="color:#888">|</span> © <span style="color:#0078a8">OpenStreetMap</span> contributors</div>
<div class="abs" style="left:0;top:662px;width:1200px;height:13px;background:#000"></div>
<div class="abs" style="left:0;top:42px;width:1px;height:620px;background:#15161f"></div>
</body>
</html>
